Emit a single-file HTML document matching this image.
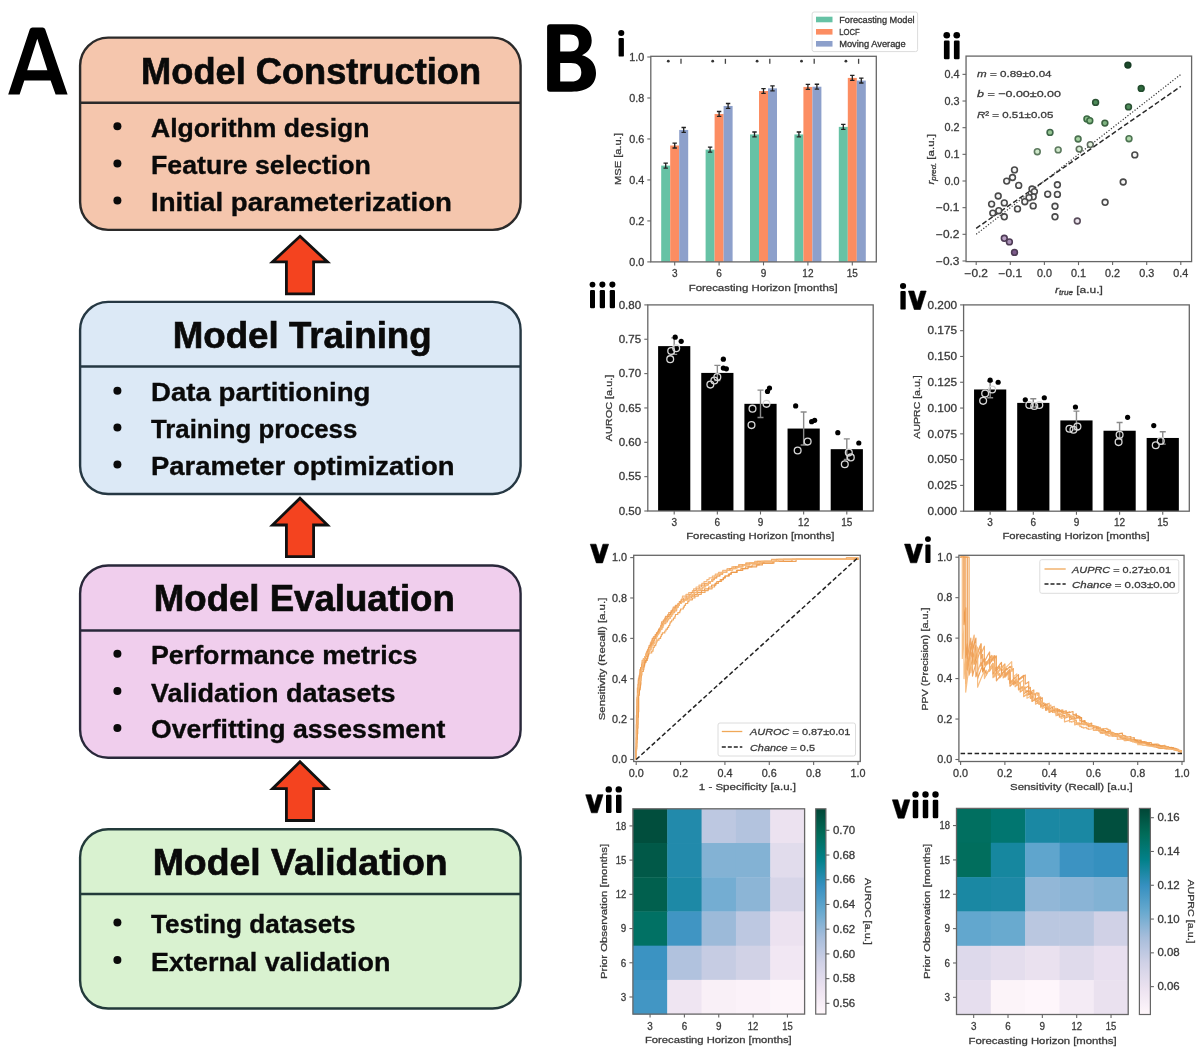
<!DOCTYPE html>
<html><head><meta charset="utf-8"><title>Figure</title>
<style>html,body{margin:0;padding:0;background:#fff;width:1200px;height:1057px;overflow:hidden}svg{display:block;filter:blur(0.4px)}</style>
</head><body>
<svg width="1200" height="1057" viewBox="0 0 1200 1057" font-family="'Liberation Sans', sans-serif">
<rect width="1200" height="1057" fill="#fff"/>
<rect x="80.1" y="37.6" width="440.5" height="192.3" rx="28" ry="28" fill="#f5c6ad" stroke="#2b2a2a" stroke-width="2.4"/>
<line x1="80.1" y1="102.8" x2="520.6" y2="102.8" stroke="#2b2a2a" stroke-width="2.4"/>
<text x="141.10" y="84.00" font-size="37.5" font-weight="bold" textLength="340" lengthAdjust="spacingAndGlyphs" fill="#0a0a0a" stroke="#0a0a0a" stroke-width="0.7">Model Construction</text>
<circle cx="117.4" cy="126.3" r="4.0" fill="#0a0a0a"/>
<text x="151.00" y="136.70" font-size="26.3" font-weight="bold" textLength="218.5" lengthAdjust="spacingAndGlyphs" fill="#0a0a0a" stroke="#0a0a0a" stroke-width="0.35">Algorithm design</text>
<circle cx="117.4" cy="163.5" r="4.0" fill="#0a0a0a"/>
<text x="151.00" y="173.90" font-size="26.3" font-weight="bold" textLength="219.9" lengthAdjust="spacingAndGlyphs" fill="#0a0a0a" stroke="#0a0a0a" stroke-width="0.35">Feature selection</text>
<circle cx="117.4" cy="200.4" r="4.0" fill="#0a0a0a"/>
<text x="151.00" y="210.80" font-size="26.3" font-weight="bold" textLength="300.9" lengthAdjust="spacingAndGlyphs" fill="#0a0a0a" stroke="#0a0a0a" stroke-width="0.35">Initial parameterization</text>
<rect x="80.1" y="301.9" width="440.5" height="192.1" rx="28" ry="28" fill="#dce9f6" stroke="#263843" stroke-width="2.4"/>
<line x1="80.1" y1="366.5" x2="520.6" y2="366.5" stroke="#263843" stroke-width="2.4"/>
<text x="172.70" y="347.80" font-size="37.5" font-weight="bold" textLength="259" lengthAdjust="spacingAndGlyphs" fill="#0a0a0a" stroke="#0a0a0a" stroke-width="0.7">Model Training</text>
<circle cx="117.4" cy="390.7" r="4.0" fill="#0a0a0a"/>
<text x="151.00" y="401.10" font-size="26.3" font-weight="bold" textLength="219.5" lengthAdjust="spacingAndGlyphs" fill="#0a0a0a" stroke="#0a0a0a" stroke-width="0.35">Data partitioning</text>
<circle cx="117.4" cy="427.5" r="4.0" fill="#0a0a0a"/>
<text x="151.00" y="437.90" font-size="26.3" font-weight="bold" textLength="206.3" lengthAdjust="spacingAndGlyphs" fill="#0a0a0a" stroke="#0a0a0a" stroke-width="0.35">Training process</text>
<circle cx="117.4" cy="464.4" r="4.0" fill="#0a0a0a"/>
<text x="151.00" y="474.80" font-size="26.3" font-weight="bold" textLength="303.5" lengthAdjust="spacingAndGlyphs" fill="#0a0a0a" stroke="#0a0a0a" stroke-width="0.35">Parameter optimization</text>
<rect x="80.1" y="565.5" width="440.5" height="192.2" rx="28" ry="28" fill="#f0ceed" stroke="#29283a" stroke-width="2.4"/>
<line x1="80.1" y1="630.5" x2="520.6" y2="630.5" stroke="#29283a" stroke-width="2.4"/>
<text x="153.80" y="611.30" font-size="37.5" font-weight="bold" textLength="301" lengthAdjust="spacingAndGlyphs" fill="#0a0a0a" stroke="#0a0a0a" stroke-width="0.7">Model Evaluation</text>
<circle cx="117.4" cy="653.7" r="4.0" fill="#0a0a0a"/>
<text x="151.00" y="664.10" font-size="26.3" font-weight="bold" textLength="266.5" lengthAdjust="spacingAndGlyphs" fill="#0a0a0a" stroke="#0a0a0a" stroke-width="0.35">Performance metrics</text>
<circle cx="117.4" cy="691.1" r="4.0" fill="#0a0a0a"/>
<text x="151.00" y="701.50" font-size="26.3" font-weight="bold" textLength="244.5" lengthAdjust="spacingAndGlyphs" fill="#0a0a0a" stroke="#0a0a0a" stroke-width="0.35">Validation datasets</text>
<circle cx="117.4" cy="728.0" r="4.0" fill="#0a0a0a"/>
<text x="151.00" y="738.40" font-size="26.3" font-weight="bold" textLength="294.3" lengthAdjust="spacingAndGlyphs" fill="#0a0a0a" stroke="#0a0a0a" stroke-width="0.35">Overfitting assessment</text>
<rect x="80.1" y="829.2" width="440.5" height="179.3" rx="28" ry="28" fill="#d9f2d0" stroke="#233a3a" stroke-width="2.4"/>
<line x1="80.1" y1="894.05" x2="520.6" y2="894.05" stroke="#233a3a" stroke-width="2.4"/>
<text x="152.70" y="875.30" font-size="37.5" font-weight="bold" textLength="295" lengthAdjust="spacingAndGlyphs" fill="#0a0a0a" stroke="#0a0a0a" stroke-width="0.7">Model Validation</text>
<circle cx="117.4" cy="922.6" r="4.0" fill="#0a0a0a"/>
<text x="151.00" y="933.00" font-size="26.3" font-weight="bold" textLength="204.5" lengthAdjust="spacingAndGlyphs" fill="#0a0a0a" stroke="#0a0a0a" stroke-width="0.35">Testing datasets</text>
<circle cx="117.4" cy="960.1" r="4.0" fill="#0a0a0a"/>
<text x="151.00" y="970.50" font-size="26.3" font-weight="bold" textLength="239.5" lengthAdjust="spacingAndGlyphs" fill="#0a0a0a" stroke="#0a0a0a" stroke-width="0.35">External validation</text>
<polygon points="300.0,236.3 327.5,261.9 313.6,261.9 313.6,293.9 286.4,293.9 286.4,261.9 272.5,261.9" fill="#f4431f" stroke="#111" stroke-width="2.8" stroke-linejoin="miter"/>
<polygon points="300.0,498.2 327.5,525.0 313.6,525.0 313.6,556.6 286.4,556.6 286.4,525.0 272.5,525.0" fill="#f4431f" stroke="#111" stroke-width="2.8" stroke-linejoin="miter"/>
<polygon points="300.0,761.8 327.5,788.7 313.6,788.7 313.6,820.5 286.4,820.5 286.4,788.7 272.5,788.7" fill="#f4431f" stroke="#111" stroke-width="2.8" stroke-linejoin="miter"/>
<path fill="#000" fill-rule="evenodd" d="M8.2 94.6 L29.8 29.2 Q30.6 27.6 32.5 27.6 H42.6 Q44.5 27.6 45.2 29.2 L67.6 94.6 H55.6 L50.6 80.4 H24.3 L19.6 94.6 Z M27.2 70.2 H47.4 L37.3 38.8 Z"/>
<path fill="#000" fill-rule="evenodd" d="M550 24.3 H572.5 C585.5 24.3 591.7 31.2 591.7 40.6 C591.7 47.6 588 52.8 582 55.2 C590.5 57.4 596 63.8 596 73 C596 85.3 587 91.7 571.5 91.7 H550 Q547.1 91.7 547.1 88.8 V27.2 Q547.1 24.3 550 24.3 Z M560.2 34.6 V51.6 H570.2 C575.8 51.6 578.8 48.6 578.8 43.1 C578.8 37.4 575.6 34.6 569.8 34.6 Z M560.2 62.9 V81.6 H571.2 C577.8 81.6 581.3 78.3 581.3 72.2 C581.3 66.2 577.6 62.9 571 62.9 Z"/>
<rect x="618.60" y="37.90" width="5.30" height="18.70" rx="1.2" fill="#000"/>
<circle cx="621.25" cy="33.00" r="3.07" fill="#000"/>
<rect x="943.90" y="40.50" width="5.70" height="18.70" rx="1.2" fill="#000"/>
<circle cx="946.75" cy="35.20" r="3.31" fill="#000"/>
<rect x="953.90" y="40.50" width="5.70" height="18.70" rx="1.2" fill="#000"/>
<circle cx="956.75" cy="35.20" r="3.31" fill="#000"/>
<rect x="590.00" y="290.00" width="5.00" height="18.20" rx="1.2" fill="#000"/>
<circle cx="592.50" cy="284.60" r="2.90" fill="#000"/>
<rect x="599.75" y="290.00" width="5.25" height="18.20" rx="1.2" fill="#000"/>
<circle cx="602.38" cy="284.60" r="3.04" fill="#000"/>
<rect x="609.75" y="290.00" width="5.25" height="18.20" rx="1.2" fill="#000"/>
<circle cx="612.38" cy="284.60" r="3.04" fill="#000"/>
<rect x="900.40" y="290.90" width="5.30" height="18.70" rx="1.2" fill="#000"/>
<circle cx="903.05" cy="286.00" r="3.07" fill="#000"/>
<polygon points="908.40,291.00 913.92,291.00 917.30,302.47 920.68,291.00 926.20,291.00 920.33,309.50 914.27,309.50" fill="#000" stroke="#000" stroke-width="0.6" stroke-linejoin="round"/>
<polygon points="590.30,544.20 595.97,544.20 599.45,555.79 602.93,544.20 608.60,544.20 602.56,562.90 596.34,562.90" fill="#000" stroke="#000" stroke-width="0.6" stroke-linejoin="round"/>
<polygon points="904.50,544.10 910.14,544.10 913.60,555.69 917.06,544.10 922.70,544.10 916.69,562.80 910.51,562.80" fill="#000" stroke="#000" stroke-width="0.6" stroke-linejoin="round"/>
<rect x="925.40" y="544.40" width="5.10" height="18.50" rx="1.2" fill="#000"/>
<circle cx="927.95" cy="539.10" r="2.96" fill="#000"/>
<polygon points="585.70,794.70 591.06,794.70 594.35,805.92 597.64,794.70 603.00,794.70 597.29,812.80 591.41,812.80" fill="#000" stroke="#000" stroke-width="0.6" stroke-linejoin="round"/>
<rect x="606.00" y="794.80" width="5.50" height="18.10" rx="1.2" fill="#000"/>
<circle cx="608.75" cy="789.40" r="3.19" fill="#000"/>
<rect x="616.00" y="794.80" width="5.50" height="18.10" rx="1.2" fill="#000"/>
<circle cx="618.75" cy="789.40" r="3.19" fill="#000"/>
<polygon points="892.35,799.85 897.79,799.85 901.12,811.20 904.46,799.85 909.90,799.85 904.11,818.15 898.14,818.15" fill="#000" stroke="#000" stroke-width="0.6" stroke-linejoin="round"/>
<rect x="912.75" y="799.75" width="5.50" height="18.50" rx="1.2" fill="#000"/>
<circle cx="915.50" cy="794.50" r="3.19" fill="#000"/>
<rect x="922.75" y="799.75" width="5.50" height="18.50" rx="1.2" fill="#000"/>
<circle cx="925.50" cy="794.50" r="3.19" fill="#000"/>
<rect x="932.75" y="799.75" width="5.50" height="18.50" rx="1.2" fill="#000"/>
<circle cx="935.50" cy="794.50" r="3.19" fill="#000"/>
<rect x="661.20" y="165.60" width="9.0" height="96.30" fill="#66c2a5"/>
<rect x="670.20" y="145.52" width="9.0" height="116.38" fill="#fc8d62"/>
<rect x="679.20" y="129.94" width="9.0" height="131.96" fill="#8da0cb"/>
<path d="M665.70 163.14V168.06M663.50 163.14h4.4M663.50 168.06h4.4" stroke="#222" stroke-width="1.3" fill="none"/>
<path d="M674.70 143.06V147.98M672.50 143.06h4.4M672.50 147.98h4.4" stroke="#222" stroke-width="1.3" fill="none"/>
<path d="M683.70 127.49V132.40M681.50 127.49h4.4M681.50 132.40h4.4" stroke="#222" stroke-width="1.3" fill="none"/>
<circle cx="668.30" cy="61.2" r="1.4" fill="#333"/>
<line x1="681.00" y1="58.8" x2="681.00" y2="63.8" stroke="#444" stroke-width="1.3"/>
<rect x="705.60" y="149.61" width="9.0" height="112.29" fill="#66c2a5"/>
<rect x="714.60" y="113.96" width="9.0" height="147.94" fill="#fc8d62"/>
<rect x="723.60" y="105.97" width="9.0" height="155.93" fill="#8da0cb"/>
<path d="M710.10 147.16V152.07M707.90 147.16h4.4M707.90 152.07h4.4" stroke="#222" stroke-width="1.3" fill="none"/>
<path d="M719.10 111.50V116.42M716.90 111.50h4.4M716.90 116.42h4.4" stroke="#222" stroke-width="1.3" fill="none"/>
<path d="M728.10 103.51V108.43M725.90 103.51h4.4M725.90 108.43h4.4" stroke="#222" stroke-width="1.3" fill="none"/>
<circle cx="712.70" cy="61.2" r="1.4" fill="#333"/>
<line x1="725.40" y1="58.8" x2="725.40" y2="63.8" stroke="#444" stroke-width="1.3"/>
<rect x="750.00" y="134.45" width="9.0" height="127.45" fill="#66c2a5"/>
<rect x="759.00" y="91.01" width="9.0" height="170.89" fill="#fc8d62"/>
<rect x="768.00" y="88.35" width="9.0" height="173.55" fill="#8da0cb"/>
<path d="M754.50 131.99V136.91M752.30 131.99h4.4M752.30 136.91h4.4" stroke="#222" stroke-width="1.3" fill="none"/>
<path d="M763.50 88.55V93.47M761.30 88.55h4.4M761.30 93.47h4.4" stroke="#222" stroke-width="1.3" fill="none"/>
<path d="M772.50 85.89V90.81M770.30 85.89h4.4M770.30 90.81h4.4" stroke="#222" stroke-width="1.3" fill="none"/>
<circle cx="757.10" cy="61.2" r="1.4" fill="#333"/>
<line x1="769.80" y1="58.8" x2="769.80" y2="63.8" stroke="#444" stroke-width="1.3"/>
<rect x="794.40" y="134.45" width="9.0" height="127.45" fill="#66c2a5"/>
<rect x="803.40" y="86.92" width="9.0" height="174.98" fill="#fc8d62"/>
<rect x="812.40" y="86.71" width="9.0" height="175.19" fill="#8da0cb"/>
<path d="M798.90 131.99V136.91M796.70 131.99h4.4M796.70 136.91h4.4" stroke="#222" stroke-width="1.3" fill="none"/>
<path d="M807.90 84.46V89.37M805.70 84.46h4.4M805.70 89.37h4.4" stroke="#222" stroke-width="1.3" fill="none"/>
<path d="M816.90 84.25V89.17M814.70 84.25h4.4M814.70 89.17h4.4" stroke="#222" stroke-width="1.3" fill="none"/>
<circle cx="801.50" cy="61.2" r="1.4" fill="#333"/>
<line x1="814.20" y1="58.8" x2="814.20" y2="63.8" stroke="#444" stroke-width="1.3"/>
<rect x="838.80" y="126.87" width="9.0" height="135.03" fill="#66c2a5"/>
<rect x="847.80" y="77.90" width="9.0" height="184.00" fill="#fc8d62"/>
<rect x="856.80" y="80.56" width="9.0" height="181.34" fill="#8da0cb"/>
<path d="M843.30 124.41V129.33M841.10 124.41h4.4M841.10 129.33h4.4" stroke="#222" stroke-width="1.3" fill="none"/>
<path d="M852.30 75.44V80.36M850.10 75.44h4.4M850.10 80.36h4.4" stroke="#222" stroke-width="1.3" fill="none"/>
<path d="M861.30 78.10V83.02M859.10 78.10h4.4M859.10 83.02h4.4" stroke="#222" stroke-width="1.3" fill="none"/>
<circle cx="845.90" cy="61.2" r="1.4" fill="#333"/>
<line x1="858.60" y1="58.8" x2="858.60" y2="63.8" stroke="#444" stroke-width="1.3"/>
<rect x="650.8" y="56.3" width="225.50" height="205.60" fill="none" stroke="#666666" stroke-width="1.3"/>
<line x1="647.3" y1="261.90" x2="650.8" y2="261.90" stroke="#666666" stroke-width="1.1"/>
<text x="644.20" y="265.70" font-size="10" text-anchor="end" textLength="15" lengthAdjust="spacingAndGlyphs" fill="#3a3a3a" stroke="#3a3a3a" stroke-width="0.28">0.0</text>
<line x1="647.3" y1="220.92" x2="650.8" y2="220.92" stroke="#666666" stroke-width="1.1"/>
<text x="644.20" y="224.72" font-size="10" text-anchor="end" textLength="15" lengthAdjust="spacingAndGlyphs" fill="#3a3a3a" stroke="#3a3a3a" stroke-width="0.28">0.2</text>
<line x1="647.3" y1="179.94" x2="650.8" y2="179.94" stroke="#666666" stroke-width="1.1"/>
<text x="644.20" y="183.74" font-size="10" text-anchor="end" textLength="15" lengthAdjust="spacingAndGlyphs" fill="#3a3a3a" stroke="#3a3a3a" stroke-width="0.28">0.4</text>
<line x1="647.3" y1="138.96" x2="650.8" y2="138.96" stroke="#666666" stroke-width="1.1"/>
<text x="644.20" y="142.76" font-size="10" text-anchor="end" textLength="15" lengthAdjust="spacingAndGlyphs" fill="#3a3a3a" stroke="#3a3a3a" stroke-width="0.28">0.6</text>
<line x1="647.3" y1="97.98" x2="650.8" y2="97.98" stroke="#666666" stroke-width="1.1"/>
<text x="644.20" y="101.78" font-size="10" text-anchor="end" textLength="15" lengthAdjust="spacingAndGlyphs" fill="#3a3a3a" stroke="#3a3a3a" stroke-width="0.28">0.8</text>
<line x1="647.3" y1="57.00" x2="650.8" y2="57.00" stroke="#666666" stroke-width="1.1"/>
<text x="644.20" y="60.80" font-size="10" text-anchor="end" textLength="15" lengthAdjust="spacingAndGlyphs" fill="#3a3a3a" stroke="#3a3a3a" stroke-width="0.28">1.0</text>
<line x1="674.70" y1="261.9" x2="674.70" y2="265.4" stroke="#666666" stroke-width="1.1"/>
<text x="674.70" y="277.40" font-size="10" text-anchor="middle" fill="#3a3a3a" stroke="#3a3a3a" stroke-width="0.28">3</text>
<line x1="719.10" y1="261.9" x2="719.10" y2="265.4" stroke="#666666" stroke-width="1.1"/>
<text x="719.10" y="277.40" font-size="10" text-anchor="middle" fill="#3a3a3a" stroke="#3a3a3a" stroke-width="0.28">6</text>
<line x1="763.50" y1="261.9" x2="763.50" y2="265.4" stroke="#666666" stroke-width="1.1"/>
<text x="763.50" y="277.40" font-size="10" text-anchor="middle" fill="#3a3a3a" stroke="#3a3a3a" stroke-width="0.28">9</text>
<line x1="807.90" y1="261.9" x2="807.90" y2="265.4" stroke="#666666" stroke-width="1.1"/>
<text x="807.90" y="277.40" font-size="10" text-anchor="middle" fill="#3a3a3a" stroke="#3a3a3a" stroke-width="0.28">12</text>
<line x1="852.30" y1="261.9" x2="852.30" y2="265.4" stroke="#666666" stroke-width="1.1"/>
<text x="852.30" y="277.40" font-size="10" text-anchor="middle" fill="#3a3a3a" stroke="#3a3a3a" stroke-width="0.28">15</text>
<text x="763.20" y="291.00" font-size="9.6" text-anchor="middle" textLength="149" lengthAdjust="spacingAndGlyphs" fill="#3a3a3a" stroke="#3a3a3a" stroke-width="0.28">Forecasting Horizon [months]</text>
<text x="621.00" y="159.00" font-size="9.6" text-anchor="middle" textLength="52" lengthAdjust="spacingAndGlyphs" transform="rotate(-90 621.0 159.0)" fill="#3a3a3a" stroke="#3a3a3a" stroke-width="0.28">MSE [a.u.]</text>
<rect x="812.1" y="12.0" width="105.5" height="39.6" rx="2" fill="#fff" stroke="#dcdcdc" stroke-width="1"/>
<rect x="816.0" y="16.7" width="16.5" height="5.6" fill="#66c2a5"/>
<text x="839.20" y="22.50" font-size="8.6" textLength="75.4" lengthAdjust="spacingAndGlyphs" fill="#333" stroke="#333" stroke-width="0.28">Forecasting Model</text>
<rect x="816.0" y="29.0" width="16.5" height="5.6" fill="#fc8d62"/>
<text x="839.20" y="34.80" font-size="8.6" textLength="20.5" lengthAdjust="spacingAndGlyphs" fill="#333" stroke="#333" stroke-width="0.28">LOCF</text>
<rect x="816.0" y="41.0" width="16.5" height="5.6" fill="#8da0cb"/>
<text x="839.20" y="46.80" font-size="8.6" textLength="66.5" lengthAdjust="spacingAndGlyphs" fill="#333" stroke="#333" stroke-width="0.28">Moving Average</text>
<line x1="976.2" y1="234.3" x2="1180.8" y2="74.4" stroke="#333" stroke-width="1.2" stroke-dasharray="1.2 1.8"/>
<line x1="976.2" y1="228.3" x2="1180.8" y2="86.4" stroke="#2a2a2a" stroke-width="1.5" stroke-dasharray="5 2.5"/>
<circle cx="1127.9" cy="65.1" r="2.9" fill="#1b4a2b" stroke="#173c24" stroke-width="1.6"/>
<circle cx="1141.2" cy="88.4" r="2.9" fill="#2f6a3e" stroke="#224c2d" stroke-width="1.6"/>
<circle cx="1095.6" cy="102.4" r="2.9" fill="#4d8a58" stroke="#2c5235" stroke-width="1.6"/>
<circle cx="1128.5" cy="106.9" r="2.9" fill="#4f8d5b" stroke="#2c5235" stroke-width="1.6"/>
<circle cx="1086.9" cy="118.9" r="2.9" fill="#8cc08a" stroke="#3c6a44" stroke-width="1.6"/>
<circle cx="1089.8" cy="120.7" r="2.9" fill="#8cc08a" stroke="#3c6a44" stroke-width="1.6"/>
<circle cx="1104.9" cy="123.1" r="2.9" fill="#7fb481" stroke="#3c6040" stroke-width="1.6"/>
<circle cx="1050.0" cy="132.4" r="2.9" fill="#97c794" stroke="#40684a" stroke-width="1.6"/>
<circle cx="1078.1" cy="139.0" r="2.9" fill="#a6d2a2" stroke="#4a704f" stroke-width="1.6"/>
<circle cx="1129.0" cy="138.7" r="2.9" fill="#b0d8ab" stroke="#4d7452" stroke-width="1.6"/>
<circle cx="1037.3" cy="151.7" r="2.9" fill="#cfe8ca" stroke="#5d7a5f" stroke-width="1.6"/>
<circle cx="1058.2" cy="149.9" r="2.9" fill="#cfe8ca" stroke="#5d7a5f" stroke-width="1.6"/>
<circle cx="1079.2" cy="149.1" r="2.9" fill="#dcefd8" stroke="#5c6e5c" stroke-width="1.6"/>
<circle cx="1090.3" cy="144.6" r="2.9" fill="#e2f1de" stroke="#5e6a5e" stroke-width="1.6"/>
<circle cx="1014.5" cy="169.9" r="2.9" fill="#f7f7f7" stroke="#4a4a4a" stroke-width="1.6"/>
<circle cx="1012.5" cy="177.5" r="2.9" fill="#f7f7f7" stroke="#4a4a4a" stroke-width="1.6"/>
<circle cx="1006.7" cy="181.1" r="2.9" fill="#f7f7f7" stroke="#4a4a4a" stroke-width="1.6"/>
<circle cx="1018.7" cy="185.4" r="2.9" fill="#f7f7f7" stroke="#4a4a4a" stroke-width="1.6"/>
<circle cx="1057.4" cy="184.8" r="2.9" fill="#f7f7f7" stroke="#4a4a4a" stroke-width="1.6"/>
<circle cx="1047.7" cy="194.2" r="2.9" fill="#f7f7f7" stroke="#4a4a4a" stroke-width="1.6"/>
<circle cx="1057.4" cy="194.4" r="2.9" fill="#f7f7f7" stroke="#4a4a4a" stroke-width="1.6"/>
<circle cx="998.2" cy="196" r="2.9" fill="#f7f7f7" stroke="#4a4a4a" stroke-width="1.6"/>
<circle cx="991.6" cy="204.1" r="2.9" fill="#f7f7f7" stroke="#4a4a4a" stroke-width="1.6"/>
<circle cx="1004.3" cy="202.9" r="2.9" fill="#f7f7f7" stroke="#4a4a4a" stroke-width="1.6"/>
<circle cx="1033.2" cy="205.9" r="2.9" fill="#f7f7f7" stroke="#4a4a4a" stroke-width="1.6"/>
<circle cx="1055" cy="206.3" r="2.9" fill="#f7f7f7" stroke="#4a4a4a" stroke-width="1.6"/>
<circle cx="1017.5" cy="208.9" r="2.9" fill="#f7f7f7" stroke="#4a4a4a" stroke-width="1.6"/>
<circle cx="992.8" cy="213.1" r="2.9" fill="#f7f7f7" stroke="#4a4a4a" stroke-width="1.6"/>
<circle cx="998.8" cy="210.7" r="2.9" fill="#f7f7f7" stroke="#4a4a4a" stroke-width="1.6"/>
<circle cx="1004.3" cy="216.8" r="2.9" fill="#f7f7f7" stroke="#4a4a4a" stroke-width="1.6"/>
<circle cx="1055" cy="216.8" r="2.9" fill="#f7f7f7" stroke="#4a4a4a" stroke-width="1.6"/>
<circle cx="1105.1" cy="202.3" r="2.9" fill="#f7f7f7" stroke="#4a4a4a" stroke-width="1.6"/>
<circle cx="1032" cy="189" r="2.9" fill="#f7f7f7" stroke="#4a4a4a" stroke-width="1.6"/>
<circle cx="1034.4" cy="191.6" r="2.9" fill="#f7f7f7" stroke="#4a4a4a" stroke-width="1.6"/>
<circle cx="1033.2" cy="196.8" r="2.9" fill="#f7f7f7" stroke="#4a4a4a" stroke-width="1.6"/>
<circle cx="1029" cy="197.7" r="2.9" fill="#f7f7f7" stroke="#4a4a4a" stroke-width="1.6"/>
<circle cx="1024.8" cy="201.7" r="2.9" fill="#f7f7f7" stroke="#4a4a4a" stroke-width="1.6"/>
<circle cx="1134.8" cy="154.9" r="2.9" fill="#f7f7f7" stroke="#4a4a4a" stroke-width="1.6"/>
<circle cx="1123.2" cy="182.0" r="2.9" fill="#f7f7f7" stroke="#4a4a4a" stroke-width="1.6"/>
<circle cx="1077.3" cy="221" r="2.9" fill="#efe8f0" stroke="#5a4e5c" stroke-width="1.6"/>
<circle cx="1004.3" cy="238.3" r="2.9" fill="#b9a0c4" stroke="#4e3c56" stroke-width="1.6"/>
<circle cx="1009.4" cy="241.9" r="2.9" fill="#a88fb6" stroke="#4e3c56" stroke-width="1.6"/>
<circle cx="1014.5" cy="252.4" r="2.9" fill="#7c5a8a" stroke="#4e3c56" stroke-width="1.6"/>
<rect x="966.05" y="56.1" width="225.55" height="205.50" fill="none" stroke="#666666" stroke-width="1.3"/>
<line x1="962.5" y1="74.36" x2="966.05" y2="74.36" stroke="#666666" stroke-width="1.1"/>
<text x="959.45" y="78.16" font-size="10" text-anchor="end" textLength="15" lengthAdjust="spacingAndGlyphs" fill="#3a3a3a" stroke="#3a3a3a" stroke-width="0.28">0.4</text>
<line x1="962.5" y1="101.02" x2="966.05" y2="101.02" stroke="#666666" stroke-width="1.1"/>
<text x="959.45" y="104.82" font-size="10" text-anchor="end" textLength="15" lengthAdjust="spacingAndGlyphs" fill="#3a3a3a" stroke="#3a3a3a" stroke-width="0.28">0.3</text>
<line x1="962.5" y1="127.68" x2="966.05" y2="127.68" stroke="#666666" stroke-width="1.1"/>
<text x="959.45" y="131.48" font-size="10" text-anchor="end" textLength="15" lengthAdjust="spacingAndGlyphs" fill="#3a3a3a" stroke="#3a3a3a" stroke-width="0.28">0.2</text>
<line x1="962.5" y1="154.34" x2="966.05" y2="154.34" stroke="#666666" stroke-width="1.1"/>
<text x="959.45" y="158.14" font-size="10" text-anchor="end" textLength="15" lengthAdjust="spacingAndGlyphs" fill="#3a3a3a" stroke="#3a3a3a" stroke-width="0.28">0.1</text>
<line x1="962.5" y1="181.00" x2="966.05" y2="181.00" stroke="#666666" stroke-width="1.1"/>
<text x="959.45" y="184.80" font-size="10" text-anchor="end" textLength="15" lengthAdjust="spacingAndGlyphs" fill="#3a3a3a" stroke="#3a3a3a" stroke-width="0.28">0.0</text>
<line x1="962.5" y1="207.66" x2="966.05" y2="207.66" stroke="#666666" stroke-width="1.1"/>
<text x="959.45" y="211.46" font-size="10" text-anchor="end" textLength="23.5" lengthAdjust="spacingAndGlyphs" fill="#3a3a3a" stroke="#3a3a3a" stroke-width="0.28">−0.1</text>
<line x1="962.5" y1="234.32" x2="966.05" y2="234.32" stroke="#666666" stroke-width="1.1"/>
<text x="959.45" y="238.12" font-size="10" text-anchor="end" textLength="23.5" lengthAdjust="spacingAndGlyphs" fill="#3a3a3a" stroke="#3a3a3a" stroke-width="0.28">−0.2</text>
<line x1="962.5" y1="260.98" x2="966.05" y2="260.98" stroke="#666666" stroke-width="1.1"/>
<text x="959.45" y="264.78" font-size="10" text-anchor="end" textLength="23.5" lengthAdjust="spacingAndGlyphs" fill="#3a3a3a" stroke="#3a3a3a" stroke-width="0.28">−0.3</text>
<line x1="976.20" y1="261.6" x2="976.20" y2="265.1" stroke="#666666" stroke-width="1.1"/>
<text x="976.20" y="277.10" font-size="10" text-anchor="middle" textLength="23.5" lengthAdjust="spacingAndGlyphs" fill="#3a3a3a" stroke="#3a3a3a" stroke-width="0.28">−0.2</text>
<line x1="1010.30" y1="261.6" x2="1010.30" y2="265.1" stroke="#666666" stroke-width="1.1"/>
<text x="1010.30" y="277.10" font-size="10" text-anchor="middle" textLength="23.5" lengthAdjust="spacingAndGlyphs" fill="#3a3a3a" stroke="#3a3a3a" stroke-width="0.28">−0.1</text>
<line x1="1044.40" y1="261.6" x2="1044.40" y2="265.1" stroke="#666666" stroke-width="1.1"/>
<text x="1044.40" y="277.10" font-size="10" text-anchor="middle" textLength="15" lengthAdjust="spacingAndGlyphs" fill="#3a3a3a" stroke="#3a3a3a" stroke-width="0.28">0.0</text>
<line x1="1078.50" y1="261.6" x2="1078.50" y2="265.1" stroke="#666666" stroke-width="1.1"/>
<text x="1078.50" y="277.10" font-size="10" text-anchor="middle" textLength="15" lengthAdjust="spacingAndGlyphs" fill="#3a3a3a" stroke="#3a3a3a" stroke-width="0.28">0.1</text>
<line x1="1112.60" y1="261.6" x2="1112.60" y2="265.1" stroke="#666666" stroke-width="1.1"/>
<text x="1112.60" y="277.10" font-size="10" text-anchor="middle" textLength="15" lengthAdjust="spacingAndGlyphs" fill="#3a3a3a" stroke="#3a3a3a" stroke-width="0.28">0.2</text>
<line x1="1146.70" y1="261.6" x2="1146.70" y2="265.1" stroke="#666666" stroke-width="1.1"/>
<text x="1146.70" y="277.10" font-size="10" text-anchor="middle" textLength="15" lengthAdjust="spacingAndGlyphs" fill="#3a3a3a" stroke="#3a3a3a" stroke-width="0.28">0.3</text>
<line x1="1180.80" y1="261.6" x2="1180.80" y2="265.1" stroke="#666666" stroke-width="1.1"/>
<text x="1180.80" y="277.10" font-size="10" text-anchor="middle" textLength="15" lengthAdjust="spacingAndGlyphs" fill="#3a3a3a" stroke="#3a3a3a" stroke-width="0.28">0.4</text>
<text x="1055" y="292.5" font-size="9.6" fill="#3a3a3a" stroke="#3a3a3a" stroke-width="0.28" textLength="47.8" lengthAdjust="spacingAndGlyphs"><tspan font-style="italic">r</tspan><tspan font-size="6.5" dy="2" font-style="italic">true</tspan><tspan dy="-2"> [a.u.]</tspan></text>
<text transform="rotate(-90 934 184.5)" x="934" y="184.5" font-size="9.6" fill="#3a3a3a" stroke="#3a3a3a" stroke-width="0.28" textLength="50.5" lengthAdjust="spacingAndGlyphs"><tspan font-style="italic">r</tspan><tspan font-size="6.5" dy="2" font-style="italic">pred.</tspan><tspan dy="-2"> [a.u.]</tspan></text>
<text x="977" y="76.5" font-size="9.4" fill="#3a3a3a" stroke="#3a3a3a" stroke-width="0.28" textLength="74.6" lengthAdjust="spacingAndGlyphs"><tspan font-style="italic">m</tspan> = 0.89±0.04</text>
<text x="977" y="97" font-size="9.4" fill="#3a3a3a" stroke="#3a3a3a" stroke-width="0.28" textLength="84" lengthAdjust="spacingAndGlyphs"><tspan font-style="italic">b</tspan> = −0.00±0.00</text>
<text x="977" y="117.5" font-size="9.4" fill="#3a3a3a" stroke="#3a3a3a" stroke-width="0.28" textLength="76.3" lengthAdjust="spacingAndGlyphs"><tspan font-style="italic">R</tspan>² = 0.51±0.05</text>
<rect x="658.10" y="346.12" width="32.2" height="164.88" fill="#000"/>
<rect x="701.25" y="372.91" width="32.2" height="138.09" fill="#000"/>
<rect x="744.40" y="403.83" width="32.2" height="107.17" fill="#000"/>
<rect x="787.55" y="428.56" width="32.2" height="82.44" fill="#000"/>
<rect x="830.70" y="449.17" width="32.2" height="61.83" fill="#000"/>
<path d="M674.20 337.88V354.36M671.20 337.88h6M671.20 354.36h6" stroke="#8a8a8a" stroke-width="1.4" fill="none"/>
<path d="M717.35 365.36V380.47M714.35 365.36h6M714.35 380.47h6" stroke="#8a8a8a" stroke-width="1.4" fill="none"/>
<path d="M760.50 390.09V417.57M757.50 390.09h6M757.50 417.57h6" stroke="#8a8a8a" stroke-width="1.4" fill="none"/>
<path d="M803.65 412.07V445.05M800.65 412.07h6M800.65 445.05h6" stroke="#8a8a8a" stroke-width="1.4" fill="none"/>
<path d="M846.80 438.87V459.48M843.80 438.87h6M843.80 459.48h6" stroke="#8a8a8a" stroke-width="1.4" fill="none"/>
<circle cx="675.20" cy="337.19" r="2.6" fill="#000"/>
<circle cx="681.20" cy="341.31" r="2.6" fill="#000"/>
<circle cx="723.35" cy="359.17" r="2.6" fill="#000"/>
<circle cx="723.35" cy="368.10" r="2.6" fill="#000"/>
<circle cx="726.35" cy="368.79" r="2.6" fill="#000"/>
<circle cx="769.50" cy="388.03" r="2.6" fill="#000"/>
<circle cx="767.50" cy="391.46" r="2.6" fill="#000"/>
<circle cx="795.65" cy="405.89" r="2.6" fill="#000"/>
<circle cx="811.65" cy="421.69" r="2.6" fill="#000"/>
<circle cx="814.65" cy="420.32" r="2.6" fill="#000"/>
<circle cx="837.80" cy="432.68" r="2.6" fill="#000"/>
<circle cx="858.80" cy="442.99" r="2.6" fill="#000"/>
<circle cx="670.20" cy="359.17" r="3.4" fill="none" stroke="#d8d8d8" stroke-width="1.3"/>
<circle cx="671.20" cy="350.93" r="3.4" fill="none" stroke="#d8d8d8" stroke-width="1.3"/>
<circle cx="676.20" cy="348.18" r="3.4" fill="none" stroke="#d8d8d8" stroke-width="1.3"/>
<circle cx="710.35" cy="384.59" r="3.4" fill="none" stroke="#d8d8d8" stroke-width="1.3"/>
<circle cx="714.35" cy="380.47" r="3.4" fill="none" stroke="#d8d8d8" stroke-width="1.3"/>
<circle cx="717.35" cy="377.04" r="3.4" fill="none" stroke="#d8d8d8" stroke-width="1.3"/>
<circle cx="752.50" cy="408.64" r="3.4" fill="none" stroke="#d8d8d8" stroke-width="1.3"/>
<circle cx="751.50" cy="425.12" r="3.4" fill="none" stroke="#d8d8d8" stroke-width="1.3"/>
<circle cx="766.50" cy="403.83" r="3.4" fill="none" stroke="#d8d8d8" stroke-width="1.3"/>
<circle cx="797.65" cy="450.54" r="3.4" fill="none" stroke="#d8d8d8" stroke-width="1.3"/>
<circle cx="807.65" cy="441.61" r="3.4" fill="none" stroke="#d8d8d8" stroke-width="1.3"/>
<circle cx="844.80" cy="464.28" r="3.4" fill="none" stroke="#d8d8d8" stroke-width="1.3"/>
<circle cx="850.80" cy="457.41" r="3.4" fill="none" stroke="#d8d8d8" stroke-width="1.3"/>
<circle cx="848.80" cy="452.61" r="3.4" fill="none" stroke="#d8d8d8" stroke-width="1.3"/>
<rect x="647.8" y="304.9" width="225.40" height="206.10" fill="none" stroke="#666666" stroke-width="1.3"/>
<line x1="644.3" y1="511.00" x2="647.8" y2="511.00" stroke="#666666" stroke-width="1.1"/>
<text x="641.20" y="514.80" font-size="10" text-anchor="end" textLength="22.5" lengthAdjust="spacingAndGlyphs" fill="#3a3a3a" stroke="#3a3a3a" stroke-width="0.28">0.50</text>
<line x1="644.3" y1="476.65" x2="647.8" y2="476.65" stroke="#666666" stroke-width="1.1"/>
<text x="641.20" y="480.45" font-size="10" text-anchor="end" textLength="22.5" lengthAdjust="spacingAndGlyphs" fill="#3a3a3a" stroke="#3a3a3a" stroke-width="0.28">0.55</text>
<line x1="644.3" y1="442.30" x2="647.8" y2="442.30" stroke="#666666" stroke-width="1.1"/>
<text x="641.20" y="446.10" font-size="10" text-anchor="end" textLength="22.5" lengthAdjust="spacingAndGlyphs" fill="#3a3a3a" stroke="#3a3a3a" stroke-width="0.28">0.60</text>
<line x1="644.3" y1="407.95" x2="647.8" y2="407.95" stroke="#666666" stroke-width="1.1"/>
<text x="641.20" y="411.75" font-size="10" text-anchor="end" textLength="22.5" lengthAdjust="spacingAndGlyphs" fill="#3a3a3a" stroke="#3a3a3a" stroke-width="0.28">0.65</text>
<line x1="644.3" y1="373.60" x2="647.8" y2="373.60" stroke="#666666" stroke-width="1.1"/>
<text x="641.20" y="377.40" font-size="10" text-anchor="end" textLength="22.5" lengthAdjust="spacingAndGlyphs" fill="#3a3a3a" stroke="#3a3a3a" stroke-width="0.28">0.70</text>
<line x1="644.3" y1="339.25" x2="647.8" y2="339.25" stroke="#666666" stroke-width="1.1"/>
<text x="641.20" y="343.05" font-size="10" text-anchor="end" textLength="22.5" lengthAdjust="spacingAndGlyphs" fill="#3a3a3a" stroke="#3a3a3a" stroke-width="0.28">0.75</text>
<line x1="644.3" y1="304.90" x2="647.8" y2="304.90" stroke="#666666" stroke-width="1.1"/>
<text x="641.20" y="308.70" font-size="10" text-anchor="end" textLength="22.5" lengthAdjust="spacingAndGlyphs" fill="#3a3a3a" stroke="#3a3a3a" stroke-width="0.28">0.80</text>
<line x1="674.20" y1="511.0" x2="674.20" y2="514.5" stroke="#666666" stroke-width="1.1"/>
<text x="674.20" y="526.00" font-size="10" text-anchor="middle" fill="#3a3a3a" stroke="#3a3a3a" stroke-width="0.28">3</text>
<line x1="717.35" y1="511.0" x2="717.35" y2="514.5" stroke="#666666" stroke-width="1.1"/>
<text x="717.35" y="526.00" font-size="10" text-anchor="middle" fill="#3a3a3a" stroke="#3a3a3a" stroke-width="0.28">6</text>
<line x1="760.50" y1="511.0" x2="760.50" y2="514.5" stroke="#666666" stroke-width="1.1"/>
<text x="760.50" y="526.00" font-size="10" text-anchor="middle" fill="#3a3a3a" stroke="#3a3a3a" stroke-width="0.28">9</text>
<line x1="803.65" y1="511.0" x2="803.65" y2="514.5" stroke="#666666" stroke-width="1.1"/>
<text x="803.65" y="526.00" font-size="10" text-anchor="middle" fill="#3a3a3a" stroke="#3a3a3a" stroke-width="0.28">12</text>
<line x1="846.80" y1="511.0" x2="846.80" y2="514.5" stroke="#666666" stroke-width="1.1"/>
<text x="846.80" y="526.00" font-size="10" text-anchor="middle" fill="#3a3a3a" stroke="#3a3a3a" stroke-width="0.28">15</text>
<text x="760.30" y="539.00" font-size="9.6" text-anchor="middle" textLength="148.3" lengthAdjust="spacingAndGlyphs" fill="#3a3a3a" stroke="#3a3a3a" stroke-width="0.28">Forecasting Horizon [months]</text>
<text x="611.50" y="408.00" font-size="9.6" text-anchor="middle" textLength="66.5" lengthAdjust="spacingAndGlyphs" transform="rotate(-90 611.5 408)" fill="#3a3a3a" stroke="#3a3a3a" stroke-width="0.28">AUROC [a.u.]</text>
<rect x="974.05" y="389.48" width="32.2" height="121.72" fill="#000"/>
<rect x="1017.20" y="402.89" width="32.2" height="108.31" fill="#000"/>
<rect x="1060.35" y="420.43" width="32.2" height="90.77" fill="#000"/>
<rect x="1103.50" y="430.74" width="32.2" height="80.46" fill="#000"/>
<rect x="1146.65" y="437.96" width="32.2" height="73.24" fill="#000"/>
<path d="M990.15 381.23V397.74M987.15 381.23h6M987.15 397.74h6" stroke="#8a8a8a" stroke-width="1.4" fill="none"/>
<path d="M1033.30 398.77V407.02M1030.30 398.77h6M1030.30 407.02h6" stroke="#8a8a8a" stroke-width="1.4" fill="none"/>
<path d="M1076.45 411.14V429.71M1073.45 411.14h6M1073.45 429.71h6" stroke="#8a8a8a" stroke-width="1.4" fill="none"/>
<path d="M1119.60 422.49V439.00M1116.60 422.49h6M1116.60 439.00h6" stroke="#8a8a8a" stroke-width="1.4" fill="none"/>
<path d="M1162.75 431.77V444.15M1159.75 431.77h6M1159.75 444.15h6" stroke="#8a8a8a" stroke-width="1.4" fill="none"/>
<circle cx="990.15" cy="380.20" r="2.6" fill="#000"/>
<circle cx="998.15" cy="382.26" r="2.6" fill="#000"/>
<circle cx="1025.30" cy="399.80" r="2.6" fill="#000"/>
<circle cx="1044.30" cy="397.74" r="2.6" fill="#000"/>
<circle cx="1075.45" cy="407.02" r="2.6" fill="#000"/>
<circle cx="1127.60" cy="417.33" r="2.6" fill="#000"/>
<circle cx="1153.75" cy="425.59" r="2.6" fill="#000"/>
<circle cx="983.15" cy="400.83" r="3.4" fill="none" stroke="#d8d8d8" stroke-width="1.3"/>
<circle cx="985.15" cy="393.61" r="3.4" fill="none" stroke="#d8d8d8" stroke-width="1.3"/>
<circle cx="992.15" cy="389.48" r="3.4" fill="none" stroke="#d8d8d8" stroke-width="1.3"/>
<circle cx="1029.30" cy="404.96" r="3.4" fill="none" stroke="#d8d8d8" stroke-width="1.3"/>
<circle cx="1034.30" cy="405.99" r="3.4" fill="none" stroke="#d8d8d8" stroke-width="1.3"/>
<circle cx="1039.30" cy="404.96" r="3.4" fill="none" stroke="#d8d8d8" stroke-width="1.3"/>
<circle cx="1069.45" cy="428.68" r="3.4" fill="none" stroke="#d8d8d8" stroke-width="1.3"/>
<circle cx="1073.45" cy="429.71" r="3.4" fill="none" stroke="#d8d8d8" stroke-width="1.3"/>
<circle cx="1077.45" cy="426.62" r="3.4" fill="none" stroke="#d8d8d8" stroke-width="1.3"/>
<circle cx="1118.60" cy="442.09" r="3.4" fill="none" stroke="#d8d8d8" stroke-width="1.3"/>
<circle cx="1119.60" cy="434.87" r="3.4" fill="none" stroke="#d8d8d8" stroke-width="1.3"/>
<circle cx="1155.75" cy="445.18" r="3.4" fill="none" stroke="#d8d8d8" stroke-width="1.3"/>
<circle cx="1160.75" cy="441.06" r="3.4" fill="none" stroke="#d8d8d8" stroke-width="1.3"/>
<rect x="963.6" y="304.9" width="225.70" height="206.30" fill="none" stroke="#666666" stroke-width="1.3"/>
<line x1="960.1" y1="511.20" x2="963.6" y2="511.20" stroke="#666666" stroke-width="1.1"/>
<text x="957.00" y="515.00" font-size="10" text-anchor="end" textLength="29.5" lengthAdjust="spacingAndGlyphs" fill="#3a3a3a" stroke="#3a3a3a" stroke-width="0.28">0.000</text>
<line x1="960.1" y1="485.41" x2="963.6" y2="485.41" stroke="#666666" stroke-width="1.1"/>
<text x="957.00" y="489.21" font-size="10" text-anchor="end" textLength="29.5" lengthAdjust="spacingAndGlyphs" fill="#3a3a3a" stroke="#3a3a3a" stroke-width="0.28">0.025</text>
<line x1="960.1" y1="459.62" x2="963.6" y2="459.62" stroke="#666666" stroke-width="1.1"/>
<text x="957.00" y="463.43" font-size="10" text-anchor="end" textLength="29.5" lengthAdjust="spacingAndGlyphs" fill="#3a3a3a" stroke="#3a3a3a" stroke-width="0.28">0.050</text>
<line x1="960.1" y1="433.84" x2="963.6" y2="433.84" stroke="#666666" stroke-width="1.1"/>
<text x="957.00" y="437.64" font-size="10" text-anchor="end" textLength="29.5" lengthAdjust="spacingAndGlyphs" fill="#3a3a3a" stroke="#3a3a3a" stroke-width="0.28">0.075</text>
<line x1="960.1" y1="408.05" x2="963.6" y2="408.05" stroke="#666666" stroke-width="1.1"/>
<text x="957.00" y="411.85" font-size="10" text-anchor="end" textLength="29.5" lengthAdjust="spacingAndGlyphs" fill="#3a3a3a" stroke="#3a3a3a" stroke-width="0.28">0.100</text>
<line x1="960.1" y1="382.26" x2="963.6" y2="382.26" stroke="#666666" stroke-width="1.1"/>
<text x="957.00" y="386.06" font-size="10" text-anchor="end" textLength="29.5" lengthAdjust="spacingAndGlyphs" fill="#3a3a3a" stroke="#3a3a3a" stroke-width="0.28">0.125</text>
<line x1="960.1" y1="356.48" x2="963.6" y2="356.48" stroke="#666666" stroke-width="1.1"/>
<text x="957.00" y="360.28" font-size="10" text-anchor="end" textLength="29.5" lengthAdjust="spacingAndGlyphs" fill="#3a3a3a" stroke="#3a3a3a" stroke-width="0.28">0.150</text>
<line x1="960.1" y1="330.69" x2="963.6" y2="330.69" stroke="#666666" stroke-width="1.1"/>
<text x="957.00" y="334.49" font-size="10" text-anchor="end" textLength="29.5" lengthAdjust="spacingAndGlyphs" fill="#3a3a3a" stroke="#3a3a3a" stroke-width="0.28">0.175</text>
<line x1="960.1" y1="304.90" x2="963.6" y2="304.90" stroke="#666666" stroke-width="1.1"/>
<text x="957.00" y="308.70" font-size="10" text-anchor="end" textLength="29.5" lengthAdjust="spacingAndGlyphs" fill="#3a3a3a" stroke="#3a3a3a" stroke-width="0.28">0.200</text>
<line x1="990.15" y1="511.2" x2="990.15" y2="514.7" stroke="#666666" stroke-width="1.1"/>
<text x="990.15" y="526.20" font-size="10" text-anchor="middle" fill="#3a3a3a" stroke="#3a3a3a" stroke-width="0.28">3</text>
<line x1="1033.30" y1="511.2" x2="1033.30" y2="514.7" stroke="#666666" stroke-width="1.1"/>
<text x="1033.30" y="526.20" font-size="10" text-anchor="middle" fill="#3a3a3a" stroke="#3a3a3a" stroke-width="0.28">6</text>
<line x1="1076.45" y1="511.2" x2="1076.45" y2="514.7" stroke="#666666" stroke-width="1.1"/>
<text x="1076.45" y="526.20" font-size="10" text-anchor="middle" fill="#3a3a3a" stroke="#3a3a3a" stroke-width="0.28">9</text>
<line x1="1119.60" y1="511.2" x2="1119.60" y2="514.7" stroke="#666666" stroke-width="1.1"/>
<text x="1119.60" y="526.20" font-size="10" text-anchor="middle" fill="#3a3a3a" stroke="#3a3a3a" stroke-width="0.28">12</text>
<line x1="1162.75" y1="511.2" x2="1162.75" y2="514.7" stroke="#666666" stroke-width="1.1"/>
<text x="1162.75" y="526.20" font-size="10" text-anchor="middle" fill="#3a3a3a" stroke="#3a3a3a" stroke-width="0.28">15</text>
<text x="1076.00" y="539.20" font-size="9.6" text-anchor="middle" textLength="147.2" lengthAdjust="spacingAndGlyphs" fill="#3a3a3a" stroke="#3a3a3a" stroke-width="0.28">Forecasting Horizon [months]</text>
<text x="920.20" y="407.00" font-size="9.6" text-anchor="middle" textLength="63.3" lengthAdjust="spacingAndGlyphs" transform="rotate(-90 920.2 407)" fill="#3a3a3a" stroke="#3a3a3a" stroke-width="0.28">AUPRC [a.u.]</text>
<g fill="none" stroke-linejoin="round">
<path d="M636.2 759.5 L636.2 757.7 L636.2 755.8 L636.2 754.0 L636.2 752.2 L636.2 750.3 L636.4 750.3 L636.4 748.5 L636.4 746.7 L636.7 746.7 L636.7 744.8 L636.7 743.0 L636.9 743.0 L636.9 741.1 L636.9 739.3 L636.9 737.5 L636.9 735.6 L636.9 733.8 L637.2 733.8 L637.2 732.0 L637.2 730.1 L637.2 728.3 L637.7 728.3 L637.7 726.5 L637.7 724.6 L637.9 724.6 L637.9 722.8 L637.9 721.0 L637.9 719.1 L637.9 717.3 L637.9 715.4 L637.9 713.6 L637.9 711.8 L637.9 709.9 L637.9 708.1 L637.9 706.3 L638.2 706.3 L638.2 704.4 L638.2 702.6 L638.2 700.8 L638.2 698.9 L638.4 698.9 L638.4 697.1 L638.4 695.3 L638.9 695.3 L638.9 693.4 L638.9 691.6 L639.4 691.6 L639.4 689.8 L639.7 689.8 L639.7 687.9 L639.9 687.9 L639.9 686.1 L640.1 686.1 L640.1 684.2 L640.4 684.2 L640.4 682.4 L640.4 680.6 L640.4 678.7 L640.6 678.7 L640.6 676.9 L640.9 676.9 L640.9 675.1 L641.1 675.1 L641.1 673.2 L641.1 671.4 L641.4 671.4 L641.4 669.6 L642.1 669.6 L642.1 667.7 L643.1 667.7 L643.1 665.9 L644.1 665.9 L644.1 664.1 L644.8 664.1 L644.8 662.2 L646.1 662.2 L646.1 660.4 L647.3 660.4 L647.3 658.5 L647.8 658.5 L647.8 656.7 L648.0 656.7 L648.0 654.9 L648.8 654.9 L648.8 653.0 L651.7 653.0 L651.7 651.2 L653.0 651.2 L653.0 649.4 L653.2 649.4 L653.2 647.5 L654.2 647.5 L654.2 645.7 L655.7 645.7 L655.7 643.9 L656.2 643.9 L656.2 642.0 L657.1 642.0 L657.1 640.2 L658.9 640.2 L658.9 638.4 L660.6 638.4 L660.6 636.5 L661.3 636.5 L661.3 634.7 L662.3 634.7 L662.3 632.9 L664.8 632.9 L664.8 631.0 L666.0 631.0 L666.0 629.2 L667.5 629.2 L667.5 627.3 L668.7 627.3 L668.7 625.5 L669.7 625.5 L669.7 623.7 L670.2 623.7 L670.2 621.8 L671.7 621.8 L671.7 620.0 L673.4 620.0 L673.4 618.2 L674.9 618.2 L674.9 616.3 L675.4 616.3 L675.4 614.5 L677.8 614.5 L677.8 612.7 L679.8 612.7 L679.8 610.8 L680.6 610.8 L680.6 609.0 L683.3 609.0 L683.3 607.2 L684.3 607.2 L684.3 605.3 L685.5 605.3 L685.5 603.5 L687.7 603.5 L687.7 601.7 L688.9 601.7 L688.9 599.8 L692.4 599.8 L692.4 598.0 L694.9 598.0 L694.9 596.1 L698.3 596.1 L698.3 594.3 L701.3 594.3 L701.3 592.5 L705.0 592.5 L705.0 590.6 L708.2 590.6 L708.2 588.8 L712.1 588.8 L712.1 587.0 L714.6 587.0 L714.6 585.1 L716.0 585.1 L716.0 583.3 L718.5 583.3 L718.5 581.5 L721.5 581.5 L721.5 579.6 L723.2 579.6 L723.2 577.8 L724.7 577.8 L724.7 576.0 L729.4 576.0 L729.4 574.1 L731.1 574.1 L731.1 572.3 L736.5 572.3 L736.5 570.4 L740.9 570.4 L740.9 568.6 L745.4 568.6 L745.4 566.8 L752.0 566.8 L752.0 564.9 L759.2 564.9 L759.2 563.1 L773.0 563.1 L773.0 561.3 L792.0 561.3 L792.0 559.4 L858.0 559.4 L858.0 557.6 L858.0 557.6" stroke="#f0a050" stroke-width="1.2" stroke-opacity="0.9"/>
<path d="M636.2 759.5 L636.2 757.7 L636.2 755.8 L636.2 754.0 L636.2 752.2 L636.2 750.3 L636.2 748.5 L636.2 746.7 L636.4 746.7 L636.4 744.8 L636.4 743.0 L636.7 743.0 L636.7 741.1 L636.7 739.3 L636.7 737.5 L636.7 735.6 L636.7 733.8 L636.9 733.8 L636.9 732.0 L636.9 730.1 L636.9 728.3 L636.9 726.5 L636.9 724.6 L636.9 722.8 L636.9 721.0 L636.9 719.1 L636.9 717.3 L637.2 717.3 L637.2 715.4 L637.2 713.6 L637.2 711.8 L637.7 711.8 L637.7 709.9 L637.7 708.1 L638.2 708.1 L638.2 706.3 L638.2 704.4 L638.2 702.6 L638.4 702.6 L638.4 700.8 L638.4 698.9 L638.4 697.1 L638.4 695.3 L638.7 695.3 L638.7 693.4 L638.7 691.6 L638.7 689.8 L638.7 687.9 L638.9 687.9 L638.9 686.1 L639.2 686.1 L639.2 684.2 L639.7 684.2 L639.7 682.4 L639.7 680.6 L640.1 680.6 L640.1 678.7 L640.4 678.7 L640.4 676.9 L640.6 676.9 L640.6 675.1 L640.6 673.2 L640.6 671.4 L641.4 671.4 L641.4 669.6 L641.6 669.6 L641.6 667.7 L642.6 667.7 L642.6 665.9 L643.8 665.9 L643.8 664.1 L644.3 664.1 L644.3 662.2 L644.8 662.2 L644.8 660.4 L645.1 660.4 L645.1 658.5 L645.6 658.5 L645.6 656.7 L645.6 654.9 L646.3 654.9 L646.3 653.0 L647.5 653.0 L647.5 651.2 L648.3 651.2 L648.3 649.4 L648.8 649.4 L648.8 647.5 L650.0 647.5 L650.0 645.7 L650.2 645.7 L650.2 643.9 L650.5 643.9 L650.5 642.0 L651.7 642.0 L651.7 640.2 L652.2 640.2 L652.2 638.4 L653.5 638.4 L653.5 636.5 L655.4 636.5 L655.4 634.7 L656.4 634.7 L656.4 632.9 L658.1 632.9 L658.1 631.0 L659.1 631.0 L659.1 629.2 L660.4 629.2 L660.4 627.3 L661.8 627.3 L661.8 625.5 L662.3 625.5 L662.3 623.7 L663.3 623.7 L663.3 621.8 L664.0 621.8 L664.0 620.0 L665.3 620.0 L665.3 618.2 L667.5 618.2 L667.5 616.3 L670.0 616.3 L670.0 614.5 L671.2 614.5 L671.2 612.7 L672.9 612.7 L672.9 610.8 L674.9 610.8 L674.9 609.0 L675.4 609.0 L675.4 607.2 L677.8 607.2 L677.8 605.3 L678.8 605.3 L678.8 603.5 L680.3 603.5 L680.3 601.7 L681.3 601.7 L681.3 599.8 L682.0 599.8 L682.0 598.0 L682.5 598.0 L682.5 596.1 L686.0 596.1 L686.0 594.3 L688.7 594.3 L688.7 592.5 L692.4 592.5 L692.4 590.6 L693.6 590.6 L693.6 588.8 L696.1 588.8 L696.1 587.0 L699.0 587.0 L699.0 585.1 L701.8 585.1 L701.8 583.3 L704.0 583.3 L704.0 581.5 L706.9 581.5 L706.9 579.6 L709.1 579.6 L709.1 577.8 L712.4 577.8 L712.4 576.0 L715.3 576.0 L715.3 574.1 L718.5 574.1 L718.5 572.3 L722.7 572.3 L722.7 570.4 L727.1 570.4 L727.1 568.6 L731.8 568.6 L731.8 566.8 L738.5 566.8 L738.5 564.9 L745.9 564.9 L745.9 563.1 L754.7 563.1 L754.7 561.3 L776.2 561.3 L776.2 559.4 L853.8 559.4 L853.8 557.6 L858.0 557.6" stroke="#f4b070" stroke-width="1.2" stroke-opacity="0.9"/>
<path d="M636.2 759.5 L636.2 757.7 L636.2 755.8 L636.2 754.0 L636.2 752.2 L636.2 750.3 L636.4 750.3 L636.4 748.5 L636.7 748.5 L636.7 746.7 L636.7 744.8 L636.7 743.0 L636.7 741.1 L636.7 739.3 L637.4 739.3 L637.4 737.5 L637.4 735.6 L637.4 733.8 L637.7 733.8 L637.7 732.0 L637.7 730.1 L637.7 728.3 L637.9 728.3 L637.9 726.5 L637.9 724.6 L637.9 722.8 L637.9 721.0 L637.9 719.1 L637.9 717.3 L638.4 717.3 L638.4 715.4 L638.4 713.6 L638.4 711.8 L638.7 711.8 L638.7 709.9 L638.7 708.1 L638.7 706.3 L638.7 704.4 L638.7 702.6 L638.7 700.8 L638.7 698.9 L638.7 697.1 L638.7 695.3 L639.2 695.3 L639.2 693.4 L639.4 693.4 L639.4 691.6 L639.4 689.8 L640.1 689.8 L640.1 687.9 L640.4 687.9 L640.4 686.1 L640.6 686.1 L640.6 684.2 L640.9 684.2 L640.9 682.4 L640.9 680.6 L641.1 680.6 L641.1 678.7 L641.1 676.9 L641.4 676.9 L641.4 675.1 L641.9 675.1 L641.9 673.2 L641.9 671.4 L643.3 671.4 L643.3 669.6 L643.8 669.6 L643.8 667.7 L644.1 667.7 L644.1 665.9 L644.6 665.9 L644.6 664.1 L644.8 664.1 L644.8 662.2 L645.6 662.2 L645.6 660.4 L646.6 660.4 L646.6 658.5 L647.3 658.5 L647.3 656.7 L648.0 656.7 L648.0 654.9 L648.5 654.9 L648.5 653.0 L648.8 653.0 L648.8 651.2 L650.0 651.2 L650.0 649.4 L651.0 649.4 L651.0 647.5 L651.2 647.5 L651.2 645.7 L651.7 645.7 L651.7 643.9 L653.2 643.9 L653.2 642.0 L653.9 642.0 L653.9 640.2 L654.7 640.2 L654.7 638.4 L655.7 638.4 L655.7 636.5 L656.4 636.5 L656.4 634.7 L656.7 634.7 L656.7 632.9 L658.4 632.9 L658.4 631.0 L659.6 631.0 L659.6 629.2 L660.8 629.2 L660.8 627.3 L662.1 627.3 L662.1 625.5 L662.8 625.5 L662.8 623.7 L663.3 623.7 L663.3 621.8 L665.3 621.8 L665.3 620.0 L666.8 620.0 L666.8 618.2 L667.3 618.2 L667.3 616.3 L669.0 616.3 L669.0 614.5 L670.5 614.5 L670.5 612.7 L671.7 612.7 L671.7 610.8 L673.9 610.8 L673.9 609.0 L674.9 609.0 L674.9 607.2 L677.1 607.2 L677.1 605.3 L679.1 605.3 L679.1 603.5 L680.6 603.5 L680.6 601.7 L683.8 601.7 L683.8 599.8 L687.5 599.8 L687.5 598.0 L691.4 598.0 L691.4 596.1 L694.4 596.1 L694.4 594.3 L697.3 594.3 L697.3 592.5 L701.5 592.5 L701.5 590.6 L704.5 590.6 L704.5 588.8 L708.7 588.8 L708.7 587.0 L711.6 587.0 L711.6 585.1 L715.1 585.1 L715.1 583.3 L716.8 583.3 L716.8 581.5 L720.2 581.5 L720.2 579.6 L723.4 579.6 L723.4 577.8 L725.4 577.8 L725.4 576.0 L728.4 576.0 L728.4 574.1 L731.3 574.1 L731.3 572.3 L737.2 572.3 L737.2 570.4 L742.7 570.4 L742.7 568.6 L748.1 568.6 L748.1 566.8 L756.7 566.8 L756.7 564.9 L762.4 564.9 L762.4 563.1 L774.0 563.1 L774.0 561.3 L796.1 561.3 L796.1 559.4 L858.0 559.4 L858.0 557.6 L858.0 557.6" stroke="#ec9848" stroke-width="1.2" stroke-opacity="0.9"/>
<path d="M636.2 759.5 L636.2 757.7 L636.2 755.8 L636.2 754.0 L636.2 752.2 L636.2 750.3 L636.2 748.5 L636.2 746.7 L636.2 744.8 L636.2 743.0 L636.2 741.1 L636.2 739.3 L636.2 737.5 L636.4 737.5 L636.4 735.6 L636.4 733.8 L636.4 732.0 L636.4 730.1 L636.7 730.1 L636.7 728.3 L636.7 726.5 L636.7 724.6 L636.9 724.6 L636.9 722.8 L636.9 721.0 L636.9 719.1 L636.9 717.3 L636.9 715.4 L636.9 713.6 L636.9 711.8 L636.9 709.9 L636.9 708.1 L636.9 706.3 L636.9 704.4 L636.9 702.6 L636.9 700.8 L636.9 698.9 L637.2 698.9 L637.2 697.1 L637.9 697.1 L637.9 695.3 L637.9 693.4 L637.9 691.6 L638.4 691.6 L638.4 689.8 L638.4 687.9 L638.4 686.1 L638.4 684.2 L638.7 684.2 L638.7 682.4 L638.9 682.4 L638.9 680.6 L639.2 680.6 L639.2 678.7 L639.4 678.7 L639.4 676.9 L639.4 675.1 L639.9 675.1 L639.9 673.2 L640.4 673.2 L640.4 671.4 L640.6 671.4 L640.6 669.6 L640.6 667.7 L641.6 667.7 L641.6 665.9 L641.6 664.1 L641.9 664.1 L641.9 662.2 L642.1 662.2 L642.1 660.4 L643.3 660.4 L643.3 658.5 L645.3 658.5 L645.3 656.7 L646.6 656.7 L646.6 654.9 L647.3 654.9 L647.3 653.0 L647.5 653.0 L647.5 651.2 L648.0 651.2 L648.0 649.4 L648.8 649.4 L648.8 647.5 L650.2 647.5 L650.2 645.7 L651.2 645.7 L651.2 643.9 L652.7 643.9 L652.7 642.0 L653.5 642.0 L653.5 640.2 L654.4 640.2 L654.4 638.4 L655.7 638.4 L655.7 636.5 L656.7 636.5 L656.7 634.7 L657.9 634.7 L657.9 632.9 L659.4 632.9 L659.4 631.0 L660.6 631.0 L660.6 629.2 L662.1 629.2 L662.1 627.3 L663.1 627.3 L663.1 625.5 L663.6 625.5 L663.6 623.7 L665.8 623.7 L665.8 621.8 L667.5 621.8 L667.5 620.0 L668.7 620.0 L668.7 618.2 L670.5 618.2 L670.5 616.3 L671.9 616.3 L671.9 614.5 L672.9 614.5 L672.9 612.7 L674.6 612.7 L674.6 610.8 L676.6 610.8 L676.6 609.0 L676.9 609.0 L676.9 607.2 L678.3 607.2 L678.3 605.3 L679.3 605.3 L679.3 603.5 L681.3 603.5 L681.3 601.7 L683.8 601.7 L683.8 599.8 L686.0 599.8 L686.0 598.0 L689.4 598.0 L689.4 596.1 L692.6 596.1 L692.6 594.3 L694.4 594.3 L694.4 592.5 L697.3 592.5 L697.3 590.6 L700.8 590.6 L700.8 588.8 L702.7 588.8 L702.7 587.0 L704.7 587.0 L704.7 585.1 L708.4 585.1 L708.4 583.3 L710.4 583.3 L710.4 581.5 L712.8 581.5 L712.8 579.6 L714.3 579.6 L714.3 577.8 L716.5 577.8 L716.5 576.0 L719.5 576.0 L719.5 574.1 L722.5 574.1 L722.5 572.3 L726.4 572.3 L726.4 570.4 L729.6 570.4 L729.6 568.6 L733.1 568.6 L733.1 566.8 L739.0 566.8 L739.0 564.9 L745.9 564.9 L745.9 563.1 L757.2 563.1 L757.2 561.3 L771.5 561.3 L771.5 559.4 L846.4 559.4 L846.4 557.6 L858.0 557.6" stroke="#f2a860" stroke-width="1.2" stroke-opacity="0.9"/>
<path d="M636.2 759.5 L636.2 757.7 L636.2 755.8 L636.2 754.0 L636.2 752.2 L636.2 750.3 L636.2 748.5 L636.2 746.7 L636.2 744.8 L636.2 743.0 L636.2 741.1 L636.2 739.3 L636.2 737.5 L636.2 735.6 L636.2 733.8 L636.2 732.0 L636.2 730.1 L636.2 728.3 L636.2 726.5 L636.2 724.6 L636.4 724.6 L636.4 722.8 L636.4 721.0 L636.4 719.1 L636.4 717.3 L636.4 715.4 L636.7 715.4 L636.7 713.6 L636.7 711.8 L636.7 709.9 L636.7 708.1 L636.9 708.1 L636.9 706.3 L637.2 706.3 L637.2 704.4 L637.2 702.6 L637.2 700.8 L637.2 698.9 L637.2 697.1 L637.4 697.1 L637.4 695.3 L637.4 693.4 L637.4 691.6 L637.4 689.8 L637.4 687.9 L637.9 687.9 L637.9 686.1 L637.9 684.2 L638.2 684.2 L638.2 682.4 L638.2 680.6 L638.4 680.6 L638.4 678.7 L638.9 678.7 L638.9 676.9 L639.4 676.9 L639.4 675.1 L639.9 675.1 L639.9 673.2 L639.9 671.4 L639.9 669.6 L640.6 669.6 L640.6 667.7 L641.9 667.7 L641.9 665.9 L642.1 665.9 L642.1 664.1 L642.9 664.1 L642.9 662.2 L644.1 662.2 L644.1 660.4 L644.6 660.4 L644.6 658.5 L644.8 658.5 L644.8 656.7 L645.6 656.7 L645.6 654.9 L646.1 654.9 L646.1 653.0 L646.8 653.0 L646.8 651.2 L647.8 651.2 L647.8 649.4 L648.5 649.4 L648.5 647.5 L649.0 647.5 L649.0 645.7 L650.5 645.7 L650.5 643.9 L651.5 643.9 L651.5 642.0 L652.2 642.0 L652.2 640.2 L652.7 640.2 L652.7 638.4 L654.2 638.4 L654.2 636.5 L655.2 636.5 L655.2 634.7 L657.1 634.7 L657.1 632.9 L657.9 632.9 L657.9 631.0 L658.6 631.0 L658.6 629.2 L660.1 629.2 L660.1 627.3 L660.6 627.3 L660.6 625.5 L661.3 625.5 L661.3 623.7 L661.6 623.7 L661.6 621.8 L663.3 621.8 L663.3 620.0 L664.8 620.0 L664.8 618.2 L665.5 618.2 L665.5 616.3 L667.7 616.3 L667.7 614.5 L668.7 614.5 L668.7 612.7 L670.9 612.7 L670.9 610.8 L672.4 610.8 L672.4 609.0 L673.2 609.0 L673.2 607.2 L675.4 607.2 L675.4 605.3 L677.8 605.3 L677.8 603.5 L679.3 603.5 L679.3 601.7 L681.1 601.7 L681.1 599.8 L683.5 599.8 L683.5 598.0 L686.2 598.0 L686.2 596.1 L689.2 596.1 L689.2 594.3 L691.2 594.3 L691.2 592.5 L693.9 592.5 L693.9 590.6 L696.3 590.6 L696.3 588.8 L699.3 588.8 L699.3 587.0 L701.5 587.0 L701.5 585.1 L704.5 585.1 L704.5 583.3 L708.7 583.3 L708.7 581.5 L711.6 581.5 L711.6 579.6 L714.1 579.6 L714.1 577.8 L716.8 577.8 L716.8 576.0 L720.0 576.0 L720.0 574.1 L722.7 574.1 L722.7 572.3 L726.9 572.3 L726.9 570.4 L730.1 570.4 L730.1 568.6 L735.5 568.6 L735.5 566.8 L742.4 566.8 L742.4 564.9 L749.6 564.9 L749.6 563.1 L763.9 563.1 L763.9 561.3 L783.3 561.3 L783.3 559.4 L854.3 559.4 L854.3 557.6 L858.0 557.6" stroke="#eea058" stroke-width="1.2" stroke-opacity="0.9"/>
<path d="M636.2 759.5 L636.2 757.7 L636.4 757.7 L636.4 755.8 L636.4 754.0 L636.4 752.2 L636.4 750.3 L636.7 750.3 L636.7 748.5 L636.7 746.7 L636.7 744.8 L636.7 743.0 L636.7 741.1 L636.7 739.3 L636.7 737.5 L636.7 735.6 L636.7 733.8 L636.7 732.0 L636.7 730.1 L636.7 728.3 L636.9 728.3 L636.9 726.5 L636.9 724.6 L637.2 724.6 L637.2 722.8 L637.2 721.0 L637.2 719.1 L637.2 717.3 L637.2 715.4 L637.2 713.6 L637.2 711.8 L637.2 709.9 L637.2 708.1 L637.2 706.3 L637.2 704.4 L637.2 702.6 L637.2 700.8 L637.2 698.9 L637.4 698.9 L637.4 697.1 L637.4 695.3 L637.7 695.3 L637.7 693.4 L638.4 693.4 L638.4 691.6 L638.4 689.8 L638.4 687.9 L638.7 687.9 L638.7 686.1 L639.2 686.1 L639.2 684.2 L639.7 684.2 L639.7 682.4 L639.9 682.4 L639.9 680.6 L640.6 680.6 L640.6 678.7 L640.6 676.9 L640.9 676.9 L640.9 675.1 L641.1 675.1 L641.1 673.2 L641.1 671.4 L641.6 671.4 L641.6 669.6 L641.9 669.6 L641.9 667.7 L642.6 667.7 L642.6 665.9 L642.6 664.1 L643.1 664.1 L643.1 662.2 L643.1 660.4 L643.8 660.4 L643.8 658.5 L644.6 658.5 L644.6 656.7 L645.6 656.7 L645.6 654.9 L647.0 654.9 L647.0 653.0 L648.8 653.0 L648.8 651.2 L649.3 651.2 L649.3 649.4 L650.7 649.4 L650.7 647.5 L652.0 647.5 L652.0 645.7 L653.2 645.7 L653.2 643.9 L654.4 643.9 L654.4 642.0 L656.2 642.0 L656.2 640.2 L656.7 640.2 L656.7 638.4 L656.7 636.5 L657.4 636.5 L657.4 634.7 L658.6 634.7 L658.6 632.9 L659.9 632.9 L659.9 631.0 L660.4 631.0 L660.4 629.2 L660.8 629.2 L660.8 627.3 L662.3 627.3 L662.3 625.5 L663.3 625.5 L663.3 623.7 L664.0 623.7 L664.0 621.8 L666.0 621.8 L666.0 620.0 L667.3 620.0 L667.3 618.2 L670.0 618.2 L670.0 616.3 L671.4 616.3 L671.4 614.5 L672.2 614.5 L672.2 612.7 L673.2 612.7 L673.2 610.8 L674.2 610.8 L674.2 609.0 L676.4 609.0 L676.4 607.2 L677.8 607.2 L677.8 605.3 L679.1 605.3 L679.1 603.5 L681.5 603.5 L681.5 601.7 L684.3 601.7 L684.3 599.8 L688.0 599.8 L688.0 598.0 L689.4 598.0 L689.4 596.1 L691.9 596.1 L691.9 594.3 L694.1 594.3 L694.1 592.5 L696.8 592.5 L696.8 590.6 L699.0 590.6 L699.0 588.8 L702.7 588.8 L702.7 587.0 L705.7 587.0 L705.7 585.1 L707.4 585.1 L707.4 583.3 L709.6 583.3 L709.6 581.5 L711.6 581.5 L711.6 579.6 L712.8 579.6 L712.8 577.8 L714.3 577.8 L714.3 576.0 L717.5 576.0 L717.5 574.1 L721.7 574.1 L721.7 572.3 L726.6 572.3 L726.6 570.4 L732.6 570.4 L732.6 568.6 L737.0 568.6 L737.0 566.8 L743.2 566.8 L743.2 564.9 L750.1 564.9 L750.1 563.1 L761.6 563.1 L761.6 561.3 L778.6 561.3 L778.6 559.4 L852.8 559.4 L852.8 557.6 L858.0 557.6" stroke="#f6b878" stroke-width="1.2" stroke-opacity="0.9"/>
</g>
<line x1="636.2" y1="759.5" x2="858.0" y2="557.6" stroke="#222" stroke-width="1.5" stroke-dasharray="4.5 2.5"/>
<rect x="718" y="723" width="137.5" height="33" rx="2" fill="#fff" fill-opacity="0.85" stroke="#dcdcdc" stroke-width="1"/>
<line x1="721.8" y1="731.5" x2="742.3" y2="731.5" stroke="#f0a858" stroke-width="1.3"/>
<line x1="721.8" y1="747" x2="742.3" y2="747" stroke="#222" stroke-width="1.5" stroke-dasharray="4 2"/>
<text x="750" y="735.3" font-size="9.6" fill="#3a3a3a" stroke="#3a3a3a" stroke-width="0.28" textLength="100.4" lengthAdjust="spacingAndGlyphs"><tspan font-style="italic">AUROC</tspan> = 0.87±0.01</text>
<text x="750" y="750.6" font-size="9.6" fill="#3a3a3a" stroke="#3a3a3a" stroke-width="0.28" textLength="65" lengthAdjust="spacingAndGlyphs"><tspan font-style="italic">Chance</tspan> = 0.5</text>
<rect x="633.7" y="555.3" width="226.60" height="206.20" fill="none" stroke="#666666" stroke-width="1.3"/>
<line x1="630.2" y1="759.50" x2="633.7" y2="759.50" stroke="#666666" stroke-width="1.1"/>
<text x="627.10" y="763.30" font-size="10" text-anchor="end" textLength="15" lengthAdjust="spacingAndGlyphs" fill="#3a3a3a" stroke="#3a3a3a" stroke-width="0.28">0.0</text>
<line x1="636.20" y1="761.5" x2="636.20" y2="765.0" stroke="#666666" stroke-width="1.1"/>
<text x="636.20" y="776.50" font-size="10" text-anchor="middle" textLength="15" lengthAdjust="spacingAndGlyphs" fill="#3a3a3a" stroke="#3a3a3a" stroke-width="0.28">0.0</text>
<line x1="630.2" y1="719.12" x2="633.7" y2="719.12" stroke="#666666" stroke-width="1.1"/>
<text x="627.10" y="722.92" font-size="10" text-anchor="end" textLength="15" lengthAdjust="spacingAndGlyphs" fill="#3a3a3a" stroke="#3a3a3a" stroke-width="0.28">0.2</text>
<line x1="680.56" y1="761.5" x2="680.56" y2="765.0" stroke="#666666" stroke-width="1.1"/>
<text x="680.56" y="776.50" font-size="10" text-anchor="middle" textLength="15" lengthAdjust="spacingAndGlyphs" fill="#3a3a3a" stroke="#3a3a3a" stroke-width="0.28">0.2</text>
<line x1="630.2" y1="678.74" x2="633.7" y2="678.74" stroke="#666666" stroke-width="1.1"/>
<text x="627.10" y="682.54" font-size="10" text-anchor="end" textLength="15" lengthAdjust="spacingAndGlyphs" fill="#3a3a3a" stroke="#3a3a3a" stroke-width="0.28">0.4</text>
<line x1="724.92" y1="761.5" x2="724.92" y2="765.0" stroke="#666666" stroke-width="1.1"/>
<text x="724.92" y="776.50" font-size="10" text-anchor="middle" textLength="15" lengthAdjust="spacingAndGlyphs" fill="#3a3a3a" stroke="#3a3a3a" stroke-width="0.28">0.4</text>
<line x1="630.2" y1="638.36" x2="633.7" y2="638.36" stroke="#666666" stroke-width="1.1"/>
<text x="627.10" y="642.16" font-size="10" text-anchor="end" textLength="15" lengthAdjust="spacingAndGlyphs" fill="#3a3a3a" stroke="#3a3a3a" stroke-width="0.28">0.6</text>
<line x1="769.28" y1="761.5" x2="769.28" y2="765.0" stroke="#666666" stroke-width="1.1"/>
<text x="769.28" y="776.50" font-size="10" text-anchor="middle" textLength="15" lengthAdjust="spacingAndGlyphs" fill="#3a3a3a" stroke="#3a3a3a" stroke-width="0.28">0.6</text>
<line x1="630.2" y1="597.98" x2="633.7" y2="597.98" stroke="#666666" stroke-width="1.1"/>
<text x="627.10" y="601.78" font-size="10" text-anchor="end" textLength="15" lengthAdjust="spacingAndGlyphs" fill="#3a3a3a" stroke="#3a3a3a" stroke-width="0.28">0.8</text>
<line x1="813.64" y1="761.5" x2="813.64" y2="765.0" stroke="#666666" stroke-width="1.1"/>
<text x="813.64" y="776.50" font-size="10" text-anchor="middle" textLength="15" lengthAdjust="spacingAndGlyphs" fill="#3a3a3a" stroke="#3a3a3a" stroke-width="0.28">0.8</text>
<line x1="630.2" y1="557.60" x2="633.7" y2="557.60" stroke="#666666" stroke-width="1.1"/>
<text x="627.10" y="561.40" font-size="10" text-anchor="end" textLength="15" lengthAdjust="spacingAndGlyphs" fill="#3a3a3a" stroke="#3a3a3a" stroke-width="0.28">1.0</text>
<line x1="858.00" y1="761.5" x2="858.00" y2="765.0" stroke="#666666" stroke-width="1.1"/>
<text x="858.00" y="776.50" font-size="10" text-anchor="middle" textLength="15" lengthAdjust="spacingAndGlyphs" fill="#3a3a3a" stroke="#3a3a3a" stroke-width="0.28">1.0</text>
<text x="747.40" y="789.70" font-size="9.6" text-anchor="middle" textLength="97.2" lengthAdjust="spacingAndGlyphs" fill="#3a3a3a" stroke="#3a3a3a" stroke-width="0.28">1 - Specificity [a.u.]</text>
<text x="605.20" y="659.00" font-size="9.6" text-anchor="middle" textLength="122.7" lengthAdjust="spacingAndGlyphs" transform="rotate(-90 605.2 659.0)" fill="#3a3a3a" stroke="#3a3a3a" stroke-width="0.28">Sensitivity (Recall) [a.u.]</text>
<g fill="none" stroke-linejoin="round">
<path d="M960.6 557.2 L962.3 557.2 L964.0 557.2 L965.7 557.2 L967.4 557.2 L969.1 557.2 L969.1 675.2 L970.8 666.1 L972.5 658.4 L974.2 651.6 L974.2 664.3 L975.9 658.4 L977.6 653.0 L979.3 648.2 L981.0 643.9 L981.0 658.4 L982.7 654.3 L982.7 671.8 L984.4 668.1 L986.1 664.7 L987.8 661.4 L989.6 658.4 L991.3 655.5 L991.3 661.1 L993.0 658.4 L994.7 655.8 L994.7 658.4 L996.4 655.9 L996.4 671.0 L998.1 668.7 L999.8 666.4 L999.8 670.0 L1001.5 667.9 L1003.2 665.8 L1004.9 663.9 L1004.9 674.7 L1006.6 672.8 L1008.3 671.0 L1010.0 669.2 L1010.0 683.3 L1011.7 681.7 L1013.4 680.1 L1013.4 684.8 L1015.1 683.3 L1016.8 681.9 L1016.8 685.3 L1018.5 683.9 L1020.2 682.5 L1020.2 692.1 L1021.9 690.8 L1023.6 689.5 L1025.3 688.3 L1027.0 687.1 L1028.7 685.9 L1028.7 688.5 L1030.4 687.4 L1030.4 692.1 L1032.1 691.0 L1033.8 689.9 L1033.8 695.1 L1035.5 694.0 L1035.5 701.7 L1037.2 700.8 L1037.2 703.3 L1038.9 702.4 L1040.6 701.5 L1040.6 705.5 L1042.3 704.6 L1042.3 706.4 L1044.1 705.6 L1045.8 704.8 L1045.8 709.2 L1047.5 708.4 L1049.2 707.7 L1049.2 712.5 L1050.9 711.8 L1052.6 711.2 L1052.6 712.4 L1054.3 711.7 L1056.0 711.1 L1057.7 710.4 L1059.4 709.8 L1059.4 711.8 L1061.1 711.2 L1062.8 710.6 L1062.8 714.0 L1064.5 713.5 L1066.2 712.9 L1067.9 712.3 L1067.9 715.1 L1069.6 714.5 L1069.6 716.9 L1071.3 716.4 L1071.3 716.8 L1073.0 716.3 L1074.7 715.8 L1076.4 715.3 L1076.4 717.8 L1078.1 717.3 L1079.8 716.8 L1079.8 718.1 L1081.5 717.6 L1081.5 721.4 L1083.2 721.0 L1083.2 721.6 L1084.9 721.1 L1084.9 723.2 L1086.6 722.8 L1086.6 723.4 L1088.3 723.0 L1088.3 726.7 L1090.0 726.4 L1091.7 726.0 L1093.4 725.6 L1093.4 727.5 L1095.1 727.1 L1096.8 726.8 L1096.8 727.2 L1098.5 726.9 L1098.5 729.9 L1100.3 729.6 L1100.3 730.1 L1102.0 729.8 L1102.0 730.6 L1103.7 730.3 L1103.7 732.3 L1105.4 732.0 L1107.1 731.7 L1108.8 731.4 L1110.5 731.2 L1110.5 733.1 L1112.2 732.8 L1112.2 734.0 L1113.9 733.7 L1115.6 733.5 L1115.6 734.2 L1117.3 733.9 L1117.3 735.0 L1119.0 734.8 L1119.0 735.8 L1120.7 735.6 L1120.7 736.2 L1122.4 736.0 L1122.4 738.3 L1124.1 738.1 L1124.1 738.8 L1125.8 738.6 L1125.8 739.0 L1127.5 738.8 L1127.5 739.3 L1129.2 739.1 L1130.9 738.9 L1130.9 739.7 L1132.6 739.5 L1134.3 739.3 L1134.3 740.5 L1136.0 740.3 L1137.7 740.2 L1139.4 740.0 L1139.4 740.3 L1141.1 740.1 L1141.1 742.4 L1142.8 742.2 L1142.8 742.6 L1144.5 742.5 L1144.5 743.1 L1146.2 742.9 L1146.2 743.8 L1147.9 743.7 L1147.9 743.8 L1149.6 743.7 L1149.6 744.6 L1151.3 744.5 L1153.0 744.3 L1154.8 744.2 L1156.5 744.1 L1158.2 744.0 L1158.2 745.4 L1159.9 745.3 L1159.9 745.7 L1161.6 745.6 L1163.3 745.5 L1165.0 745.3 L1165.0 746.4 L1166.7 746.3 L1166.7 746.8 L1168.4 746.7 L1168.4 747.6 L1170.1 747.5 L1170.1 747.5 L1171.8 747.4 L1171.8 748.5 L1173.5 748.4 L1173.5 748.5 L1175.2 748.4 L1175.2 748.9 L1176.9 748.8 L1176.9 749.3 L1178.6 749.3 L1178.6 750.6 L1180.3 750.5 L1180.3 751.2 L1182.0 751.1" stroke="#f0a050" stroke-width="1.2" stroke-opacity="0.9"/>
<path d="M960.6 557.2 L962.3 557.2 L964.0 557.2 L964.0 624.6 L965.7 607.8 L965.7 683.6 L967.4 669.6 L969.1 658.4 L970.8 649.2 L972.5 641.5 L974.2 635.0 L974.2 651.6 L975.9 645.7 L975.9 658.4 L977.6 653.0 L977.6 671.5 L979.3 666.8 L981.0 662.4 L981.0 666.1 L982.7 662.1 L984.4 658.4 L984.4 665.1 L986.1 661.6 L986.1 664.7 L987.8 661.4 L987.8 664.3 L989.6 661.2 L991.3 658.4 L993.0 655.6 L993.0 660.9 L994.7 658.4 L994.7 675.2 L996.4 672.8 L998.1 670.5 L998.1 672.2 L999.8 670.0 L1001.5 667.9 L1001.5 671.2 L1003.2 669.2 L1004.9 667.2 L1004.9 677.3 L1006.6 675.5 L1008.3 673.7 L1010.0 671.9 L1010.0 683.3 L1011.7 681.7 L1011.7 683.6 L1013.4 682.1 L1015.1 680.6 L1015.1 686.8 L1016.8 685.3 L1018.5 683.9 L1018.5 689.3 L1020.2 688.0 L1021.9 686.7 L1021.9 689.5 L1023.6 688.2 L1025.3 687.0 L1025.3 691.5 L1027.0 690.3 L1027.0 695.4 L1028.7 694.2 L1030.4 693.1 L1032.1 692.1 L1032.1 697.5 L1033.8 696.5 L1033.8 699.1 L1035.5 698.1 L1035.5 704.2 L1037.2 703.3 L1038.9 702.4 L1038.9 703.1 L1040.6 702.2 L1040.6 707.3 L1042.3 706.4 L1044.1 705.6 L1045.8 704.8 L1047.5 704.0 L1049.2 703.2 L1049.2 705.8 L1050.9 705.1 L1050.9 707.5 L1052.6 706.7 L1052.6 707.0 L1054.3 706.3 L1054.3 712.6 L1056.0 711.9 L1056.0 715.8 L1057.7 715.1 L1059.4 714.5 L1061.1 713.9 L1061.1 715.1 L1062.8 714.5 L1062.8 716.1 L1064.5 715.6 L1064.5 721.9 L1066.2 721.4 L1067.9 720.9 L1069.6 720.4 L1069.6 722.0 L1071.3 721.5 L1071.3 722.1 L1073.0 721.7 L1074.7 721.2 L1074.7 724.9 L1076.4 724.5 L1078.1 724.1 L1079.8 723.6 L1079.8 726.6 L1081.5 726.2 L1081.5 727.4 L1083.2 727.1 L1083.2 728.1 L1084.9 727.7 L1086.6 727.4 L1086.6 728.6 L1088.3 728.3 L1088.3 729.5 L1090.0 729.1 L1091.7 728.8 L1093.4 728.4 L1093.4 730.5 L1095.1 730.2 L1095.1 730.4 L1096.8 730.1 L1096.8 730.3 L1098.5 730.0 L1098.5 731.1 L1100.3 730.8 L1100.3 733.1 L1102.0 732.8 L1103.7 732.6 L1105.4 732.3 L1105.4 734.8 L1107.1 734.6 L1107.1 735.3 L1108.8 735.1 L1108.8 736.2 L1110.5 735.9 L1112.2 735.7 L1112.2 736.4 L1113.9 736.2 L1115.6 736.0 L1115.6 736.3 L1117.3 736.1 L1117.3 739.4 L1119.0 739.2 L1120.7 739.1 L1122.4 738.9 L1122.4 739.3 L1124.1 739.1 L1124.1 740.6 L1125.8 740.5 L1125.8 740.6 L1127.5 740.5 L1127.5 740.5 L1129.2 740.3 L1130.9 740.1 L1130.9 741.2 L1132.6 741.1 L1134.3 740.9 L1134.3 741.9 L1136.0 741.7 L1137.7 741.6 L1137.7 743.5 L1139.4 743.3 L1139.4 743.9 L1141.1 743.7 L1141.1 744.1 L1142.8 743.9 L1144.5 743.8 L1144.5 743.8 L1146.2 743.7 L1146.2 743.9 L1147.9 743.8 L1147.9 744.8 L1149.6 744.7 L1149.6 745.3 L1151.3 745.2 L1151.3 745.8 L1153.0 745.7 L1153.0 746.3 L1154.8 746.1 L1154.8 746.4 L1156.5 746.3 L1156.5 746.9 L1158.2 746.8 L1158.2 746.9 L1159.9 746.8 L1159.9 748.0 L1161.6 747.9 L1161.6 748.1 L1163.3 748.1 L1165.0 748.0 L1165.0 748.5 L1166.7 748.4 L1166.7 749.0 L1168.4 748.9 L1168.4 748.9 L1170.1 748.8 L1170.1 749.0 L1171.8 748.9 L1171.8 749.3 L1173.5 749.3 L1173.5 749.7 L1175.2 749.6 L1175.2 750.3 L1176.9 750.2 L1176.9 750.6 L1178.6 750.5 L1178.6 751.5 L1180.3 751.4 L1180.3 752.8 L1182.0 752.7" stroke="#f4b070" stroke-width="1.2" stroke-opacity="0.9"/>
<path d="M960.6 557.2 L962.3 557.2 L964.0 557.2 L964.0 624.6 L965.7 607.8 L965.7 658.4 L967.4 643.9 L967.4 669.6 L969.1 658.4 L970.8 649.2 L972.5 641.5 L972.5 650.6 L974.2 643.9 L975.9 638.1 L975.9 676.7 L977.6 671.5 L977.6 678.6 L979.3 673.9 L981.0 669.6 L982.7 665.6 L982.7 671.8 L984.4 668.1 L984.4 673.7 L986.1 670.2 L986.1 675.2 L987.8 672.0 L989.6 669.0 L991.3 666.1 L993.0 663.4 L993.0 674.1 L994.7 671.5 L996.4 669.1 L998.1 666.8 L999.8 664.5 L1001.5 662.4 L1001.5 674.3 L1003.2 672.3 L1004.9 670.4 L1006.6 668.5 L1006.6 670.0 L1008.3 668.1 L1010.0 666.4 L1010.0 667.8 L1011.7 666.1 L1011.7 670.2 L1013.4 668.6 L1013.4 679.1 L1015.1 677.6 L1016.8 676.1 L1018.5 674.6 L1018.5 679.5 L1020.2 678.1 L1021.9 676.7 L1023.6 675.4 L1023.6 693.8 L1025.3 692.7 L1027.0 691.5 L1028.7 690.3 L1028.7 694.8 L1030.4 693.7 L1032.1 692.6 L1032.1 701.3 L1033.8 700.3 L1035.5 699.4 L1037.2 698.4 L1038.9 697.5 L1038.9 699.5 L1040.6 698.6 L1042.3 697.7 L1042.3 703.7 L1044.1 702.9 L1044.1 704.7 L1045.8 703.9 L1045.8 710.4 L1047.5 709.7 L1049.2 708.9 L1050.9 708.2 L1052.6 707.5 L1052.6 710.5 L1054.3 709.8 L1056.0 709.1 L1056.0 710.9 L1057.7 710.2 L1057.7 710.4 L1059.4 709.8 L1059.4 710.8 L1061.1 710.2 L1061.1 712.5 L1062.8 711.9 L1064.5 711.3 L1066.2 710.7 L1066.2 713.0 L1067.9 712.5 L1069.6 711.9 L1069.6 712.6 L1071.3 712.0 L1073.0 711.5 L1073.0 715.0 L1074.7 714.5 L1076.4 713.9 L1076.4 716.0 L1078.1 715.5 L1078.1 716.8 L1079.8 716.3 L1079.8 718.0 L1081.5 717.5 L1081.5 721.4 L1083.2 721.0 L1084.9 720.5 L1084.9 723.5 L1086.6 723.1 L1086.6 723.9 L1088.3 723.5 L1088.3 723.9 L1090.0 723.5 L1091.7 723.1 L1091.7 726.2 L1093.4 725.9 L1093.4 726.7 L1095.1 726.3 L1095.1 726.9 L1096.8 726.5 L1096.8 729.2 L1098.5 728.9 L1100.3 728.6 L1100.3 730.2 L1102.0 729.9 L1103.7 729.6 L1103.7 730.8 L1105.4 730.5 L1105.4 732.3 L1107.1 732.1 L1108.8 731.8 L1108.8 733.3 L1110.5 733.1 L1110.5 733.7 L1112.2 733.4 L1112.2 733.7 L1113.9 733.5 L1113.9 734.2 L1115.6 734.0 L1117.3 733.8 L1117.3 733.9 L1119.0 733.7 L1120.7 733.4 L1122.4 733.2 L1122.4 735.6 L1124.1 735.4 L1124.1 736.1 L1125.8 735.9 L1125.8 737.1 L1127.5 736.9 L1127.5 737.0 L1129.2 736.8 L1130.9 736.6 L1130.9 738.0 L1132.6 737.9 L1134.3 737.7 L1134.3 739.8 L1136.0 739.6 L1136.0 740.4 L1137.7 740.2 L1137.7 741.3 L1139.4 741.2 L1141.1 741.0 L1141.1 741.9 L1142.8 741.8 L1144.5 741.6 L1144.5 742.1 L1146.2 742.0 L1146.2 742.7 L1147.9 742.5 L1147.9 742.8 L1149.6 742.7 L1151.3 742.6 L1151.3 744.4 L1153.0 744.3 L1153.0 744.9 L1154.8 744.7 L1154.8 744.8 L1156.5 744.7 L1156.5 745.5 L1158.2 745.3 L1159.9 745.2 L1159.9 746.7 L1161.6 746.6 L1163.3 746.5 L1163.3 747.0 L1165.0 746.9 L1165.0 747.6 L1166.7 747.5 L1168.4 747.4 L1170.1 747.3 L1170.1 747.8 L1171.8 747.7 L1173.5 747.6 L1173.5 748.8 L1175.2 748.7 L1175.2 749.9 L1176.9 749.8 L1176.9 750.3 L1178.6 750.3 L1178.6 750.4 L1180.3 750.4 L1180.3 751.2 L1182.0 751.1" stroke="#ec9848" stroke-width="1.2" stroke-opacity="0.9"/>
<path d="M960.6 557.2 L962.3 557.2 L964.0 557.2 L965.7 557.2 L965.7 672.8 L967.4 658.4 L967.4 669.6 L969.1 658.4 L970.8 649.2 L972.5 641.5 L972.5 665.1 L974.2 658.4 L975.9 652.4 L975.9 658.4 L977.6 653.0 L979.3 648.2 L981.0 643.9 L981.0 654.0 L982.7 649.9 L984.4 646.2 L984.4 665.1 L986.1 661.6 L986.1 664.7 L987.8 661.4 L989.6 658.4 L989.6 671.3 L991.3 668.5 L993.0 665.8 L993.0 677.7 L994.7 675.2 L996.4 672.8 L996.4 674.5 L998.1 672.2 L998.1 675.5 L999.8 673.3 L999.8 677.9 L1001.5 675.8 L1003.2 673.8 L1003.2 677.9 L1004.9 676.0 L1006.6 674.2 L1008.3 672.4 L1008.3 679.7 L1010.0 678.0 L1010.0 682.3 L1011.7 680.7 L1013.4 679.1 L1015.1 677.6 L1015.1 680.6 L1016.8 679.1 L1016.8 682.8 L1018.5 681.3 L1018.5 690.0 L1020.2 688.7 L1021.9 687.4 L1023.6 686.1 L1023.6 696.6 L1025.3 695.4 L1027.0 694.3 L1028.7 693.2 L1028.7 693.7 L1030.4 692.6 L1030.4 698.5 L1032.1 697.5 L1032.1 701.3 L1033.8 700.3 L1035.5 699.4 L1037.2 698.4 L1037.2 701.1 L1038.9 700.2 L1038.9 704.4 L1040.6 703.6 L1040.6 706.1 L1042.3 705.3 L1042.3 706.4 L1044.1 705.6 L1045.8 704.8 L1047.5 704.0 L1047.5 707.7 L1049.2 706.9 L1049.2 711.9 L1050.9 711.2 L1050.9 711.4 L1052.6 710.7 L1054.3 710.0 L1056.0 709.4 L1057.7 708.7 L1057.7 711.7 L1059.4 711.0 L1061.1 710.4 L1062.8 709.8 L1062.8 712.8 L1064.5 712.2 L1066.2 711.6 L1066.2 715.5 L1067.9 714.9 L1069.6 714.4 L1069.6 719.7 L1071.3 719.2 L1073.0 718.7 L1074.7 718.2 L1074.7 720.7 L1076.4 720.2 L1076.4 723.7 L1078.1 723.2 L1079.8 722.8 L1079.8 723.7 L1081.5 723.3 L1083.2 722.9 L1084.9 722.5 L1084.9 723.2 L1086.6 722.8 L1086.6 725.0 L1088.3 724.6 L1090.0 724.2 L1090.0 725.7 L1091.7 725.3 L1091.7 726.8 L1093.4 726.5 L1093.4 727.1 L1095.1 726.8 L1096.8 726.4 L1096.8 728.1 L1098.5 727.7 L1100.3 727.4 L1100.3 729.2 L1102.0 728.9 L1103.7 728.6 L1103.7 728.9 L1105.4 728.6 L1107.1 728.3 L1107.1 729.7 L1108.8 729.4 L1108.8 730.3 L1110.5 730.0 L1110.5 732.3 L1112.2 732.1 L1112.2 732.8 L1113.9 732.6 L1113.9 734.5 L1115.6 734.2 L1115.6 735.9 L1117.3 735.6 L1119.0 735.4 L1119.0 735.6 L1120.7 735.4 L1120.7 736.9 L1122.4 736.7 L1122.4 737.3 L1124.1 737.0 L1124.1 738.6 L1125.8 738.4 L1125.8 739.8 L1127.5 739.6 L1127.5 740.2 L1129.2 740.0 L1129.2 740.7 L1130.9 740.5 L1132.6 740.3 L1132.6 741.9 L1134.3 741.7 L1136.0 741.5 L1137.7 741.4 L1137.7 742.4 L1139.4 742.3 L1139.4 742.8 L1141.1 742.7 L1141.1 743.1 L1142.8 742.9 L1144.5 742.8 L1144.5 743.0 L1146.2 742.8 L1146.2 744.9 L1147.9 744.8 L1147.9 745.7 L1149.6 745.6 L1149.6 746.0 L1151.3 745.9 L1153.0 745.8 L1153.0 746.6 L1154.8 746.5 L1154.8 747.2 L1156.5 747.1 L1156.5 747.4 L1158.2 747.3 L1158.2 747.9 L1159.9 747.8 L1159.9 748.3 L1161.6 748.3 L1163.3 748.2 L1165.0 748.1 L1165.0 748.9 L1166.7 748.8 L1168.4 748.7 L1170.1 748.6 L1171.8 748.5 L1171.8 749.2 L1173.5 749.1 L1173.5 749.7 L1175.2 749.6 L1175.2 750.5 L1176.9 750.4 L1176.9 750.7 L1178.6 750.6 L1178.6 750.9 L1180.3 750.8 L1180.3 751.3 L1182.0 751.2" stroke="#f2a860" stroke-width="1.2" stroke-opacity="0.9"/>
<path d="M960.6 557.2 L962.3 557.2 L964.0 557.2 L965.7 557.2 L967.4 557.2 L967.4 658.4 L969.1 647.1 L970.8 638.1 L970.8 658.4 L972.5 650.6 L972.5 676.2 L974.2 669.6 L975.9 663.7 L977.6 658.4 L979.3 653.5 L981.0 649.2 L981.0 666.1 L982.7 662.1 L984.4 658.4 L984.4 661.8 L986.1 658.4 L987.8 655.1 L989.6 652.0 L989.6 664.0 L991.3 661.1 L993.0 658.4 L994.7 655.8 L994.7 669.6 L996.4 667.1 L996.4 680.8 L998.1 678.6 L999.8 676.4 L1001.5 674.3 L1003.2 672.3 L1004.9 670.4 L1004.9 676.0 L1006.6 674.2 L1008.3 672.4 L1010.0 670.6 L1010.0 686.2 L1011.7 684.6 L1013.4 683.0 L1015.1 681.5 L1015.1 683.3 L1016.8 681.9 L1018.5 680.4 L1020.2 679.0 L1021.9 677.7 L1023.6 676.3 L1025.3 675.0 L1025.3 684.1 L1027.0 682.9 L1028.7 681.7 L1028.7 692.1 L1030.4 691.0 L1030.4 696.7 L1032.1 695.6 L1033.8 694.6 L1035.5 693.6 L1035.5 694.0 L1037.2 693.1 L1037.2 694.0 L1038.9 693.0 L1038.9 697.9 L1040.6 696.9 L1040.6 701.9 L1042.3 701.0 L1042.3 705.9 L1044.1 705.0 L1045.8 704.2 L1045.8 708.2 L1047.5 707.4 L1049.2 706.6 L1049.2 710.6 L1050.9 709.9 L1050.9 710.5 L1052.6 709.8 L1052.6 710.3 L1054.3 709.6 L1054.3 710.5 L1056.0 709.8 L1057.7 709.1 L1057.7 715.0 L1059.4 714.4 L1059.4 717.1 L1061.1 716.6 L1062.8 716.0 L1064.5 715.4 L1064.5 718.1 L1066.2 717.6 L1067.9 717.0 L1069.6 716.5 L1069.6 717.5 L1071.3 716.9 L1071.3 718.7 L1073.0 718.2 L1074.7 717.7 L1074.7 718.6 L1076.4 718.1 L1078.1 717.6 L1078.1 718.1 L1079.8 717.6 L1079.8 720.9 L1081.5 720.5 L1081.5 724.1 L1083.2 723.7 L1083.2 724.7 L1084.9 724.3 L1084.9 724.7 L1086.6 724.3 L1086.6 724.8 L1088.3 724.4 L1088.3 726.0 L1090.0 725.6 L1090.0 726.4 L1091.7 726.0 L1093.4 725.6 L1093.4 728.0 L1095.1 727.7 L1096.8 727.3 L1096.8 729.9 L1098.5 729.6 L1098.5 730.0 L1100.3 729.7 L1100.3 732.6 L1102.0 732.3 L1102.0 733.3 L1103.7 733.0 L1105.4 732.7 L1107.1 732.4 L1107.1 733.9 L1108.8 733.7 L1108.8 733.7 L1110.5 733.5 L1110.5 734.2 L1112.2 734.0 L1112.2 735.1 L1113.9 734.9 L1113.9 735.9 L1115.6 735.7 L1117.3 735.5 L1117.3 735.6 L1119.0 735.4 L1119.0 737.1 L1120.7 736.9 L1120.7 738.1 L1122.4 737.9 L1124.1 737.7 L1124.1 737.8 L1125.8 737.6 L1127.5 737.4 L1127.5 739.0 L1129.2 738.8 L1129.2 738.9 L1130.9 738.7 L1130.9 741.0 L1132.6 740.8 L1132.6 741.4 L1134.3 741.2 L1134.3 741.8 L1136.0 741.7 L1136.0 742.4 L1137.7 742.2 L1137.7 742.3 L1139.4 742.2 L1141.1 742.0 L1141.1 742.2 L1142.8 742.1 L1144.5 741.9 L1144.5 742.2 L1146.2 742.1 L1146.2 742.9 L1147.9 742.8 L1147.9 744.6 L1149.6 744.4 L1149.6 745.1 L1151.3 745.0 L1151.3 745.5 L1153.0 745.4 L1153.0 745.9 L1154.8 745.8 L1154.8 746.2 L1156.5 746.1 L1156.5 746.8 L1158.2 746.7 L1158.2 748.0 L1159.9 747.9 L1159.9 748.1 L1161.6 748.0 L1163.3 747.9 L1163.3 747.9 L1165.0 747.8 L1166.7 747.8 L1166.7 748.3 L1168.4 748.3 L1168.4 748.6 L1170.1 748.6 L1171.8 748.5 L1173.5 748.4 L1175.2 748.3 L1175.2 748.9 L1176.9 748.8 L1176.9 750.1 L1178.6 750.0 L1178.6 751.1 L1180.3 751.1 L1180.3 751.4 L1182.0 751.4" stroke="#eea058" stroke-width="1.2" stroke-opacity="0.9"/>
<path d="M960.6 557.2 L962.3 557.2 L962.3 658.4 L964.0 624.6 L964.0 678.6 L965.7 658.4 L965.7 692.1 L967.4 678.6 L969.1 667.5 L970.8 658.4 L970.8 672.8 L972.5 665.1 L974.2 658.4 L975.9 652.4 L977.6 647.1 L977.6 687.2 L979.3 682.8 L981.0 678.6 L982.7 674.7 L984.4 671.0 L984.4 678.6 L986.1 675.2 L987.8 672.0 L989.6 669.0 L991.3 666.1 L993.0 663.4 L993.0 665.8 L994.7 663.2 L994.7 676.9 L996.4 674.5 L998.1 672.2 L999.8 670.0 L1001.5 667.9 L1003.2 665.8 L1003.2 670.8 L1004.9 668.8 L1006.6 666.9 L1008.3 665.1 L1010.0 663.3 L1011.7 661.6 L1011.7 671.5 L1013.4 669.9 L1013.4 677.0 L1015.1 675.4 L1016.8 673.9 L1016.8 684.5 L1018.5 683.1 L1018.5 683.9 L1020.2 682.5 L1021.9 681.2 L1023.6 679.9 L1023.6 696.6 L1025.3 695.4 L1027.0 694.3 L1027.0 698.3 L1028.7 697.3 L1030.4 696.2 L1032.1 695.1 L1032.1 695.6 L1033.8 694.6 L1035.5 693.6 L1037.2 692.6 L1037.2 695.4 L1038.9 694.4 L1038.9 702.8 L1040.6 701.9 L1042.3 701.0 L1042.3 708.4 L1044.1 707.6 L1045.8 706.8 L1047.5 706.0 L1047.5 707.1 L1049.2 706.4 L1049.2 711.0 L1050.9 710.3 L1052.6 709.6 L1054.3 708.9 L1056.0 708.2 L1056.0 714.2 L1057.7 713.6 L1059.4 712.9 L1059.4 714.2 L1061.1 713.6 L1061.1 718.3 L1062.8 717.8 L1064.5 717.2 L1066.2 716.7 L1067.9 716.1 L1067.9 716.4 L1069.6 715.9 L1071.3 715.4 L1071.3 717.4 L1073.0 716.8 L1073.0 719.9 L1074.7 719.4 L1074.7 723.2 L1076.4 722.7 L1076.4 723.2 L1078.1 722.8 L1078.1 724.9 L1079.8 724.5 L1081.5 724.1 L1083.2 723.7 L1083.2 724.1 L1084.9 723.7 L1084.9 724.3 L1086.6 723.9 L1088.3 723.5 L1088.3 724.1 L1090.0 723.7 L1090.0 726.8 L1091.7 726.4 L1093.4 726.1 L1095.1 725.7 L1095.1 730.0 L1096.8 729.6 L1098.5 729.3 L1098.5 729.4 L1100.3 729.1 L1100.3 732.0 L1102.0 731.7 L1103.7 731.4 L1103.7 733.3 L1105.4 733.0 L1105.4 733.7 L1107.1 733.4 L1108.8 733.2 L1110.5 732.9 L1110.5 734.1 L1112.2 733.9 L1113.9 733.6 L1113.9 735.6 L1115.6 735.4 L1117.3 735.2 L1117.3 736.1 L1119.0 735.9 L1120.7 735.7 L1120.7 735.8 L1122.4 735.6 L1122.4 737.7 L1124.1 737.5 L1124.1 737.7 L1125.8 737.5 L1127.5 737.3 L1127.5 738.9 L1129.2 738.7 L1129.2 740.4 L1130.9 740.2 L1132.6 740.1 L1132.6 741.4 L1134.3 741.2 L1134.3 742.0 L1136.0 741.8 L1136.0 743.0 L1137.7 742.9 L1137.7 744.7 L1139.4 744.6 L1141.1 744.5 L1141.1 745.0 L1142.8 744.8 L1142.8 745.5 L1144.5 745.4 L1146.2 745.3 L1146.2 745.6 L1147.9 745.5 L1147.9 745.8 L1149.6 745.6 L1149.6 746.1 L1151.3 746.0 L1151.3 746.1 L1153.0 746.0 L1153.0 746.6 L1154.8 746.5 L1156.5 746.4 L1158.2 746.3 L1158.2 747.0 L1159.9 746.9 L1159.9 747.6 L1161.6 747.5 L1163.3 747.4 L1163.3 747.8 L1165.0 747.7 L1166.7 747.6 L1166.7 748.0 L1168.4 747.9 L1168.4 748.6 L1170.1 748.5 L1170.1 748.9 L1171.8 748.8 L1171.8 749.5 L1173.5 749.4 L1173.5 749.4 L1175.2 749.3 L1175.2 749.8 L1176.9 749.8 L1176.9 750.0 L1178.6 749.9 L1178.6 750.5 L1180.3 750.5 L1180.3 751.4 L1182.0 751.3" stroke="#f6b878" stroke-width="1.2" stroke-opacity="0.9"/>
</g>
<line x1="960.6" y1="753.4" x2="1182.0" y2="753.4" stroke="#222" stroke-width="1.5" stroke-dasharray="4.5 2.5"/>
<rect x="1039.8" y="559.7" width="139" height="33.6" rx="2" fill="#fff" fill-opacity="0.85" stroke="#dcdcdc" stroke-width="1"/>
<line x1="1044.5" y1="569" x2="1065.7" y2="569" stroke="#f0a858" stroke-width="1.3"/>
<line x1="1044.5" y1="584" x2="1065.7" y2="584" stroke="#222" stroke-width="1.5" stroke-dasharray="4 2"/>
<text x="1072" y="572.6" font-size="9.6" fill="#3a3a3a" stroke="#3a3a3a" stroke-width="0.28" textLength="99" lengthAdjust="spacingAndGlyphs"><tspan font-style="italic">AUPRC</tspan> = 0.27±0.01</text>
<text x="1072" y="587.6" font-size="9.6" fill="#3a3a3a" stroke="#3a3a3a" stroke-width="0.28" textLength="103.5" lengthAdjust="spacingAndGlyphs"><tspan font-style="italic">Chance</tspan> = 0.03±0.00</text>
<rect x="958.9" y="555.3" width="225.15" height="206.20" fill="none" stroke="#666666" stroke-width="1.3"/>
<line x1="955.4" y1="759.50" x2="958.9" y2="759.50" stroke="#666666" stroke-width="1.1"/>
<text x="952.30" y="763.30" font-size="10" text-anchor="end" textLength="15" lengthAdjust="spacingAndGlyphs" fill="#3a3a3a" stroke="#3a3a3a" stroke-width="0.28">0.0</text>
<line x1="960.60" y1="761.5" x2="960.60" y2="765.0" stroke="#666666" stroke-width="1.1"/>
<text x="960.60" y="777.00" font-size="10" text-anchor="middle" textLength="15" lengthAdjust="spacingAndGlyphs" fill="#3a3a3a" stroke="#3a3a3a" stroke-width="0.28">0.0</text>
<line x1="955.4" y1="719.04" x2="958.9" y2="719.04" stroke="#666666" stroke-width="1.1"/>
<text x="952.30" y="722.84" font-size="10" text-anchor="end" textLength="15" lengthAdjust="spacingAndGlyphs" fill="#3a3a3a" stroke="#3a3a3a" stroke-width="0.28">0.2</text>
<line x1="1004.88" y1="761.5" x2="1004.88" y2="765.0" stroke="#666666" stroke-width="1.1"/>
<text x="1004.88" y="777.00" font-size="10" text-anchor="middle" textLength="15" lengthAdjust="spacingAndGlyphs" fill="#3a3a3a" stroke="#3a3a3a" stroke-width="0.28">0.2</text>
<line x1="955.4" y1="678.58" x2="958.9" y2="678.58" stroke="#666666" stroke-width="1.1"/>
<text x="952.30" y="682.38" font-size="10" text-anchor="end" textLength="15" lengthAdjust="spacingAndGlyphs" fill="#3a3a3a" stroke="#3a3a3a" stroke-width="0.28">0.4</text>
<line x1="1049.16" y1="761.5" x2="1049.16" y2="765.0" stroke="#666666" stroke-width="1.1"/>
<text x="1049.16" y="777.00" font-size="10" text-anchor="middle" textLength="15" lengthAdjust="spacingAndGlyphs" fill="#3a3a3a" stroke="#3a3a3a" stroke-width="0.28">0.4</text>
<line x1="955.4" y1="638.12" x2="958.9" y2="638.12" stroke="#666666" stroke-width="1.1"/>
<text x="952.30" y="641.92" font-size="10" text-anchor="end" textLength="15" lengthAdjust="spacingAndGlyphs" fill="#3a3a3a" stroke="#3a3a3a" stroke-width="0.28">0.6</text>
<line x1="1093.44" y1="761.5" x2="1093.44" y2="765.0" stroke="#666666" stroke-width="1.1"/>
<text x="1093.44" y="777.00" font-size="10" text-anchor="middle" textLength="15" lengthAdjust="spacingAndGlyphs" fill="#3a3a3a" stroke="#3a3a3a" stroke-width="0.28">0.6</text>
<line x1="955.4" y1="597.66" x2="958.9" y2="597.66" stroke="#666666" stroke-width="1.1"/>
<text x="952.30" y="601.46" font-size="10" text-anchor="end" textLength="15" lengthAdjust="spacingAndGlyphs" fill="#3a3a3a" stroke="#3a3a3a" stroke-width="0.28">0.8</text>
<line x1="1137.72" y1="761.5" x2="1137.72" y2="765.0" stroke="#666666" stroke-width="1.1"/>
<text x="1137.72" y="777.00" font-size="10" text-anchor="middle" textLength="15" lengthAdjust="spacingAndGlyphs" fill="#3a3a3a" stroke="#3a3a3a" stroke-width="0.28">0.8</text>
<line x1="955.4" y1="557.20" x2="958.9" y2="557.20" stroke="#666666" stroke-width="1.1"/>
<text x="952.30" y="561.00" font-size="10" text-anchor="end" textLength="15" lengthAdjust="spacingAndGlyphs" fill="#3a3a3a" stroke="#3a3a3a" stroke-width="0.28">1.0</text>
<line x1="1182.00" y1="761.5" x2="1182.00" y2="765.0" stroke="#666666" stroke-width="1.1"/>
<text x="1182.00" y="777.00" font-size="10" text-anchor="middle" textLength="15" lengthAdjust="spacingAndGlyphs" fill="#3a3a3a" stroke="#3a3a3a" stroke-width="0.28">1.0</text>
<text x="1071.40" y="790.40" font-size="9.6" text-anchor="middle" textLength="122.8" lengthAdjust="spacingAndGlyphs" fill="#3a3a3a" stroke="#3a3a3a" stroke-width="0.28">Sensitivity (Recall) [a.u.]</text>
<text x="928.40" y="659.20" font-size="9.6" text-anchor="middle" textLength="103.3" lengthAdjust="spacingAndGlyphs" transform="rotate(-90 928.4 659.2)" fill="#3a3a3a" stroke="#3a3a3a" stroke-width="0.28">PPV (Precision) [a.u.]</text>
<rect x="632.90" y="808.80" width="34.74" height="34.62" fill="#014e3d"/>
<rect x="667.24" y="808.80" width="34.74" height="34.62" fill="#228aab"/>
<rect x="701.58" y="808.80" width="34.74" height="34.62" fill="#bdc8e1"/>
<rect x="735.92" y="808.80" width="34.74" height="34.62" fill="#b3c3de"/>
<rect x="770.26" y="808.80" width="34.74" height="34.62" fill="#ece2f0"/>
<rect x="632.90" y="843.02" width="34.74" height="34.62" fill="#015948"/>
<rect x="667.24" y="843.02" width="34.74" height="34.62" fill="#228aab"/>
<rect x="701.58" y="843.02" width="34.74" height="34.62" fill="#83b2d4"/>
<rect x="735.92" y="843.02" width="34.74" height="34.62" fill="#83b2d4"/>
<rect x="770.26" y="843.02" width="34.74" height="34.62" fill="#e1dcec"/>
<rect x="632.90" y="877.23" width="34.74" height="34.62" fill="#01604e"/>
<rect x="667.24" y="877.23" width="34.74" height="34.62" fill="#1d89a6"/>
<rect x="701.58" y="877.23" width="34.74" height="34.62" fill="#74add2"/>
<rect x="735.92" y="877.23" width="34.74" height="34.62" fill="#8cb5d6"/>
<rect x="770.26" y="877.23" width="34.74" height="34.62" fill="#d7d5e8"/>
<rect x="632.90" y="911.45" width="34.74" height="34.62" fill="#017164"/>
<rect x="667.24" y="911.45" width="34.74" height="34.62" fill="#4095c3"/>
<rect x="701.58" y="911.45" width="34.74" height="34.62" fill="#9cbad9"/>
<rect x="735.92" y="911.45" width="34.74" height="34.62" fill="#bdc8e1"/>
<rect x="770.26" y="911.45" width="34.74" height="34.62" fill="#ece2f0"/>
<rect x="632.90" y="945.67" width="34.74" height="34.62" fill="#3b93c2"/>
<rect x="667.24" y="945.67" width="34.74" height="34.62" fill="#b1c2de"/>
<rect x="701.58" y="945.67" width="34.74" height="34.62" fill="#c6cce3"/>
<rect x="735.92" y="945.67" width="34.74" height="34.62" fill="#d1d2e6"/>
<rect x="770.26" y="945.67" width="34.74" height="34.62" fill="#f1e7f3"/>
<rect x="632.90" y="979.88" width="34.74" height="34.62" fill="#4296c4"/>
<rect x="667.24" y="979.88" width="34.74" height="34.62" fill="#efe5f2"/>
<rect x="701.58" y="979.88" width="34.74" height="34.62" fill="#f9f0f7"/>
<rect x="735.92" y="979.88" width="34.74" height="34.62" fill="#fbf2f9"/>
<rect x="770.26" y="979.88" width="34.74" height="34.62" fill="#fdf5fa"/>
<rect x="632.9" y="808.8" width="171.70" height="205.30" fill="none" stroke="#666666" stroke-width="1.3"/>
<defs><linearGradient id="g632" x1="0" y1="1" x2="0" y2="0"><stop offset="0.000" stop-color="#fff7fb"/><stop offset="0.125" stop-color="#ece2f0"/><stop offset="0.250" stop-color="#d0d1e6"/><stop offset="0.375" stop-color="#a6bddb"/><stop offset="0.500" stop-color="#67a9cf"/><stop offset="0.625" stop-color="#3690c0"/><stop offset="0.750" stop-color="#02818a"/><stop offset="0.875" stop-color="#016c59"/><stop offset="1.000" stop-color="#014636"/></linearGradient></defs>
<rect x="815.7" y="808.8" width="10.20" height="205.30" fill="url(#g632)" stroke="#666666" stroke-width="1.2"/>
<line x1="825.9" y1="1003.35" x2="829.40" y2="1003.35" stroke="#666666" stroke-width="1.1"/>
<text x="832.90" y="1006.95" font-size="10" textLength="22.3" lengthAdjust="spacingAndGlyphs" fill="#3a3a3a" stroke="#3a3a3a" stroke-width="0.28">0.56</text>
<line x1="825.9" y1="978.63" x2="829.40" y2="978.63" stroke="#666666" stroke-width="1.1"/>
<text x="832.90" y="982.23" font-size="10" textLength="22.3" lengthAdjust="spacingAndGlyphs" fill="#3a3a3a" stroke="#3a3a3a" stroke-width="0.28">0.58</text>
<line x1="825.9" y1="953.91" x2="829.40" y2="953.91" stroke="#666666" stroke-width="1.1"/>
<text x="832.90" y="957.51" font-size="10" textLength="22.3" lengthAdjust="spacingAndGlyphs" fill="#3a3a3a" stroke="#3a3a3a" stroke-width="0.28">0.60</text>
<line x1="825.9" y1="929.19" x2="829.40" y2="929.19" stroke="#666666" stroke-width="1.1"/>
<text x="832.90" y="932.79" font-size="10" textLength="22.3" lengthAdjust="spacingAndGlyphs" fill="#3a3a3a" stroke="#3a3a3a" stroke-width="0.28">0.62</text>
<line x1="825.9" y1="904.47" x2="829.40" y2="904.47" stroke="#666666" stroke-width="1.1"/>
<text x="832.90" y="908.07" font-size="10" textLength="22.3" lengthAdjust="spacingAndGlyphs" fill="#3a3a3a" stroke="#3a3a3a" stroke-width="0.28">0.64</text>
<line x1="825.9" y1="879.75" x2="829.40" y2="879.75" stroke="#666666" stroke-width="1.1"/>
<text x="832.90" y="883.35" font-size="10" textLength="22.3" lengthAdjust="spacingAndGlyphs" fill="#3a3a3a" stroke="#3a3a3a" stroke-width="0.28">0.66</text>
<line x1="825.9" y1="855.03" x2="829.40" y2="855.03" stroke="#666666" stroke-width="1.1"/>
<text x="832.90" y="858.63" font-size="10" textLength="22.3" lengthAdjust="spacingAndGlyphs" fill="#3a3a3a" stroke="#3a3a3a" stroke-width="0.28">0.68</text>
<line x1="825.9" y1="830.31" x2="829.40" y2="830.31" stroke="#666666" stroke-width="1.1"/>
<text x="832.90" y="833.91" font-size="10" textLength="22.3" lengthAdjust="spacingAndGlyphs" fill="#3a3a3a" stroke="#3a3a3a" stroke-width="0.28">0.70</text>
<line x1="629.4" y1="825.91" x2="632.9" y2="825.91" stroke="#666666" stroke-width="1.1"/>
<text x="626.30" y="829.71" font-size="10" text-anchor="end" textLength="10.5" lengthAdjust="spacingAndGlyphs" fill="#3a3a3a" stroke="#3a3a3a" stroke-width="0.28">18</text>
<line x1="629.4" y1="860.12" x2="632.9" y2="860.12" stroke="#666666" stroke-width="1.1"/>
<text x="626.30" y="863.92" font-size="10" text-anchor="end" textLength="10.5" lengthAdjust="spacingAndGlyphs" fill="#3a3a3a" stroke="#3a3a3a" stroke-width="0.28">15</text>
<line x1="629.4" y1="894.34" x2="632.9" y2="894.34" stroke="#666666" stroke-width="1.1"/>
<text x="626.30" y="898.14" font-size="10" text-anchor="end" textLength="10.5" lengthAdjust="spacingAndGlyphs" fill="#3a3a3a" stroke="#3a3a3a" stroke-width="0.28">12</text>
<line x1="629.4" y1="928.56" x2="632.9" y2="928.56" stroke="#666666" stroke-width="1.1"/>
<text x="626.30" y="932.36" font-size="10" text-anchor="end" textLength="5.5" lengthAdjust="spacingAndGlyphs" fill="#3a3a3a" stroke="#3a3a3a" stroke-width="0.28">9</text>
<line x1="629.4" y1="962.77" x2="632.9" y2="962.77" stroke="#666666" stroke-width="1.1"/>
<text x="626.30" y="966.57" font-size="10" text-anchor="end" textLength="5.5" lengthAdjust="spacingAndGlyphs" fill="#3a3a3a" stroke="#3a3a3a" stroke-width="0.28">6</text>
<line x1="629.4" y1="996.99" x2="632.9" y2="996.99" stroke="#666666" stroke-width="1.1"/>
<text x="626.30" y="1000.79" font-size="10" text-anchor="end" textLength="5.5" lengthAdjust="spacingAndGlyphs" fill="#3a3a3a" stroke="#3a3a3a" stroke-width="0.28">3</text>
<line x1="650.07" y1="1014.1" x2="650.07" y2="1017.6" stroke="#666666" stroke-width="1.1"/>
<text x="650.07" y="1029.60" font-size="10" text-anchor="middle" textLength="5.5" lengthAdjust="spacingAndGlyphs" fill="#3a3a3a" stroke="#3a3a3a" stroke-width="0.28">3</text>
<line x1="684.41" y1="1014.1" x2="684.41" y2="1017.6" stroke="#666666" stroke-width="1.1"/>
<text x="684.41" y="1029.60" font-size="10" text-anchor="middle" textLength="5.5" lengthAdjust="spacingAndGlyphs" fill="#3a3a3a" stroke="#3a3a3a" stroke-width="0.28">6</text>
<line x1="718.75" y1="1014.1" x2="718.75" y2="1017.6" stroke="#666666" stroke-width="1.1"/>
<text x="718.75" y="1029.60" font-size="10" text-anchor="middle" textLength="5.5" lengthAdjust="spacingAndGlyphs" fill="#3a3a3a" stroke="#3a3a3a" stroke-width="0.28">9</text>
<line x1="753.09" y1="1014.1" x2="753.09" y2="1017.6" stroke="#666666" stroke-width="1.1"/>
<text x="753.09" y="1029.60" font-size="10" text-anchor="middle" textLength="10.5" lengthAdjust="spacingAndGlyphs" fill="#3a3a3a" stroke="#3a3a3a" stroke-width="0.28">12</text>
<line x1="787.43" y1="1014.1" x2="787.43" y2="1017.6" stroke="#666666" stroke-width="1.1"/>
<text x="787.43" y="1029.60" font-size="10" text-anchor="middle" textLength="10.5" lengthAdjust="spacingAndGlyphs" fill="#3a3a3a" stroke="#3a3a3a" stroke-width="0.28">15</text>
<text x="718.30" y="1043.30" font-size="9.6" text-anchor="middle" textLength="146.7" lengthAdjust="spacingAndGlyphs" fill="#3a3a3a" stroke="#3a3a3a" stroke-width="0.28">Forecasting Horizon [months]</text>
<text x="607.00" y="911.45" font-size="9.6" text-anchor="middle" textLength="135" lengthAdjust="spacingAndGlyphs" transform="rotate(-90 607.0 911.45)" fill="#3a3a3a" stroke="#3a3a3a" stroke-width="0.28">Prior Observation [months]</text>
<text x="864.70" y="911.50" font-size="9.6" text-anchor="middle" textLength="66.8" lengthAdjust="spacingAndGlyphs" transform="rotate(90 864.7 911.5)" fill="#3a3a3a" stroke="#3a3a3a" stroke-width="0.28">AUROC [a.u.]</text>
<rect x="956.50" y="808.40" width="34.74" height="34.75" fill="#016f60"/>
<rect x="990.84" y="808.40" width="34.74" height="34.75" fill="#017670"/>
<rect x="1025.18" y="808.40" width="34.74" height="34.75" fill="#1a88a3"/>
<rect x="1059.52" y="808.40" width="34.74" height="34.75" fill="#1a88a3"/>
<rect x="1093.86" y="808.40" width="34.74" height="34.75" fill="#014f3e"/>
<rect x="956.50" y="842.75" width="34.74" height="34.75" fill="#016e5d"/>
<rect x="990.84" y="842.75" width="34.74" height="34.75" fill="#16879f"/>
<rect x="1025.18" y="842.75" width="34.74" height="34.75" fill="#5fa5cd"/>
<rect x="1059.52" y="842.75" width="34.74" height="34.75" fill="#3c93c2"/>
<rect x="1093.86" y="842.75" width="34.74" height="34.75" fill="#3590bf"/>
<rect x="956.50" y="877.10" width="34.74" height="34.75" fill="#1a88a3"/>
<rect x="990.84" y="877.10" width="34.74" height="34.75" fill="#1d89a6"/>
<rect x="1025.18" y="877.10" width="34.74" height="34.75" fill="#92b7d7"/>
<rect x="1059.52" y="877.10" width="34.74" height="34.75" fill="#8ab4d6"/>
<rect x="1093.86" y="877.10" width="34.74" height="34.75" fill="#82b2d4"/>
<rect x="956.50" y="911.45" width="34.74" height="34.75" fill="#62a7ce"/>
<rect x="990.84" y="911.45" width="34.74" height="34.75" fill="#69aacf"/>
<rect x="1025.18" y="911.45" width="34.74" height="34.75" fill="#bac7e0"/>
<rect x="1059.52" y="911.45" width="34.74" height="34.75" fill="#bac7e0"/>
<rect x="1093.86" y="911.45" width="34.74" height="34.75" fill="#d0d1e6"/>
<rect x="956.50" y="945.80" width="34.74" height="34.75" fill="#ddd9eb"/>
<rect x="990.84" y="945.80" width="34.74" height="34.75" fill="#e4dded"/>
<rect x="1025.18" y="945.80" width="34.74" height="34.75" fill="#eae1ef"/>
<rect x="1059.52" y="945.80" width="34.74" height="34.75" fill="#dfdaeb"/>
<rect x="1093.86" y="945.80" width="34.74" height="34.75" fill="#e8dfef"/>
<rect x="956.50" y="980.15" width="34.74" height="34.75" fill="#e6deee"/>
<rect x="990.84" y="980.15" width="34.74" height="34.75" fill="#fcf4f9"/>
<rect x="1025.18" y="980.15" width="34.74" height="34.75" fill="#fef6fb"/>
<rect x="1059.52" y="980.15" width="34.74" height="34.75" fill="#f4ebf5"/>
<rect x="1093.86" y="980.15" width="34.74" height="34.75" fill="#eae1ef"/>
<rect x="956.5" y="808.4" width="171.70" height="206.10" fill="none" stroke="#666666" stroke-width="1.3"/>
<defs><linearGradient id="g956" x1="0" y1="1" x2="0" y2="0"><stop offset="0.000" stop-color="#fff7fb"/><stop offset="0.125" stop-color="#ece2f0"/><stop offset="0.250" stop-color="#d0d1e6"/><stop offset="0.375" stop-color="#a6bddb"/><stop offset="0.500" stop-color="#67a9cf"/><stop offset="0.625" stop-color="#3690c0"/><stop offset="0.750" stop-color="#02818a"/><stop offset="0.875" stop-color="#016c59"/><stop offset="1.000" stop-color="#014636"/></linearGradient></defs>
<rect x="1139.4" y="808.4" width="11.00" height="206.10" fill="url(#g956)" stroke="#666666" stroke-width="1.2"/>
<line x1="1150.4" y1="986.63" x2="1153.90" y2="986.63" stroke="#666666" stroke-width="1.1"/>
<text x="1157.40" y="990.23" font-size="10" textLength="22.3" lengthAdjust="spacingAndGlyphs" fill="#3a3a3a" stroke="#3a3a3a" stroke-width="0.28">0.06</text>
<line x1="1150.4" y1="952.84" x2="1153.90" y2="952.84" stroke="#666666" stroke-width="1.1"/>
<text x="1157.40" y="956.44" font-size="10" textLength="22.3" lengthAdjust="spacingAndGlyphs" fill="#3a3a3a" stroke="#3a3a3a" stroke-width="0.28">0.08</text>
<line x1="1150.4" y1="919.05" x2="1153.90" y2="919.05" stroke="#666666" stroke-width="1.1"/>
<text x="1157.40" y="922.65" font-size="10" textLength="22.3" lengthAdjust="spacingAndGlyphs" fill="#3a3a3a" stroke="#3a3a3a" stroke-width="0.28">0.10</text>
<line x1="1150.4" y1="885.27" x2="1153.90" y2="885.27" stroke="#666666" stroke-width="1.1"/>
<text x="1157.40" y="888.87" font-size="10" textLength="22.3" lengthAdjust="spacingAndGlyphs" fill="#3a3a3a" stroke="#3a3a3a" stroke-width="0.28">0.12</text>
<line x1="1150.4" y1="851.48" x2="1153.90" y2="851.48" stroke="#666666" stroke-width="1.1"/>
<text x="1157.40" y="855.08" font-size="10" textLength="22.3" lengthAdjust="spacingAndGlyphs" fill="#3a3a3a" stroke="#3a3a3a" stroke-width="0.28">0.14</text>
<line x1="1150.4" y1="817.69" x2="1153.90" y2="817.69" stroke="#666666" stroke-width="1.1"/>
<text x="1157.40" y="821.29" font-size="10" textLength="22.3" lengthAdjust="spacingAndGlyphs" fill="#3a3a3a" stroke="#3a3a3a" stroke-width="0.28">0.16</text>
<line x1="953.0" y1="825.57" x2="956.5" y2="825.57" stroke="#666666" stroke-width="1.1"/>
<text x="949.90" y="829.37" font-size="10" text-anchor="end" textLength="10.5" lengthAdjust="spacingAndGlyphs" fill="#3a3a3a" stroke="#3a3a3a" stroke-width="0.28">18</text>
<line x1="953.0" y1="859.92" x2="956.5" y2="859.92" stroke="#666666" stroke-width="1.1"/>
<text x="949.90" y="863.72" font-size="10" text-anchor="end" textLength="10.5" lengthAdjust="spacingAndGlyphs" fill="#3a3a3a" stroke="#3a3a3a" stroke-width="0.28">15</text>
<line x1="953.0" y1="894.27" x2="956.5" y2="894.27" stroke="#666666" stroke-width="1.1"/>
<text x="949.90" y="898.07" font-size="10" text-anchor="end" textLength="10.5" lengthAdjust="spacingAndGlyphs" fill="#3a3a3a" stroke="#3a3a3a" stroke-width="0.28">12</text>
<line x1="953.0" y1="928.62" x2="956.5" y2="928.62" stroke="#666666" stroke-width="1.1"/>
<text x="949.90" y="932.42" font-size="10" text-anchor="end" textLength="5.5" lengthAdjust="spacingAndGlyphs" fill="#3a3a3a" stroke="#3a3a3a" stroke-width="0.28">9</text>
<line x1="953.0" y1="962.98" x2="956.5" y2="962.98" stroke="#666666" stroke-width="1.1"/>
<text x="949.90" y="966.77" font-size="10" text-anchor="end" textLength="5.5" lengthAdjust="spacingAndGlyphs" fill="#3a3a3a" stroke="#3a3a3a" stroke-width="0.28">6</text>
<line x1="953.0" y1="997.33" x2="956.5" y2="997.33" stroke="#666666" stroke-width="1.1"/>
<text x="949.90" y="1001.12" font-size="10" text-anchor="end" textLength="5.5" lengthAdjust="spacingAndGlyphs" fill="#3a3a3a" stroke="#3a3a3a" stroke-width="0.28">3</text>
<line x1="973.67" y1="1014.5" x2="973.67" y2="1018.0" stroke="#666666" stroke-width="1.1"/>
<text x="973.67" y="1030.00" font-size="10" text-anchor="middle" textLength="5.5" lengthAdjust="spacingAndGlyphs" fill="#3a3a3a" stroke="#3a3a3a" stroke-width="0.28">3</text>
<line x1="1008.01" y1="1014.5" x2="1008.01" y2="1018.0" stroke="#666666" stroke-width="1.1"/>
<text x="1008.01" y="1030.00" font-size="10" text-anchor="middle" textLength="5.5" lengthAdjust="spacingAndGlyphs" fill="#3a3a3a" stroke="#3a3a3a" stroke-width="0.28">6</text>
<line x1="1042.35" y1="1014.5" x2="1042.35" y2="1018.0" stroke="#666666" stroke-width="1.1"/>
<text x="1042.35" y="1030.00" font-size="10" text-anchor="middle" textLength="5.5" lengthAdjust="spacingAndGlyphs" fill="#3a3a3a" stroke="#3a3a3a" stroke-width="0.28">9</text>
<line x1="1076.69" y1="1014.5" x2="1076.69" y2="1018.0" stroke="#666666" stroke-width="1.1"/>
<text x="1076.69" y="1030.00" font-size="10" text-anchor="middle" textLength="10.5" lengthAdjust="spacingAndGlyphs" fill="#3a3a3a" stroke="#3a3a3a" stroke-width="0.28">12</text>
<line x1="1111.03" y1="1014.5" x2="1111.03" y2="1018.0" stroke="#666666" stroke-width="1.1"/>
<text x="1111.03" y="1030.00" font-size="10" text-anchor="middle" textLength="10.5" lengthAdjust="spacingAndGlyphs" fill="#3a3a3a" stroke="#3a3a3a" stroke-width="0.28">15</text>
<text x="1042.60" y="1043.70" font-size="9.6" text-anchor="middle" textLength="148.1" lengthAdjust="spacingAndGlyphs" fill="#3a3a3a" stroke="#3a3a3a" stroke-width="0.28">Forecasting Horizon [months]</text>
<text x="930.20" y="911.45" font-size="9.6" text-anchor="middle" textLength="135" lengthAdjust="spacingAndGlyphs" transform="rotate(-90 930.2 911.45)" fill="#3a3a3a" stroke="#3a3a3a" stroke-width="0.28">Prior Observation [months]</text>
<text x="1187.80" y="911.50" font-size="9.6" text-anchor="middle" textLength="64.2" lengthAdjust="spacingAndGlyphs" transform="rotate(90 1187.8 911.5)" fill="#3a3a3a" stroke="#3a3a3a" stroke-width="0.28">AUPRC [a.u.]</text>
</svg>
</body></html>
